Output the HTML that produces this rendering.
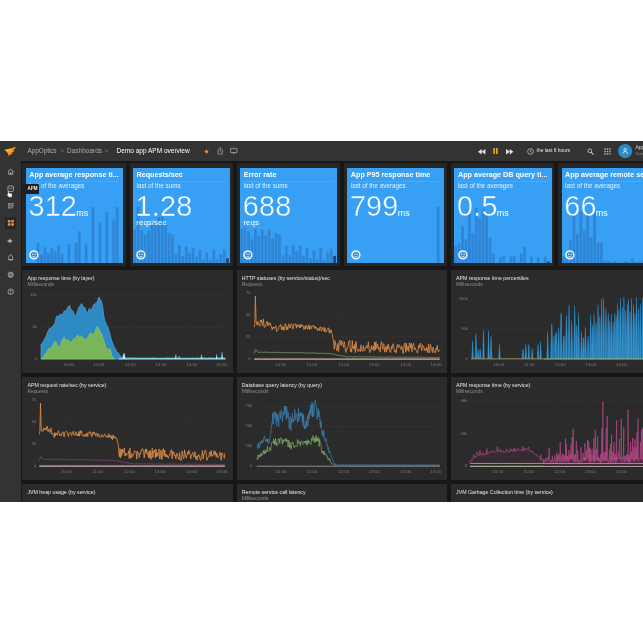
<!DOCTYPE html>
<html lang="en"><head><meta charset="utf-8"><title>Demo app APM overview</title>
<style>
html,body{margin:0;padding:0;background:#fff;}
body{width:643px;height:643px;overflow:hidden;position:relative;font-family:"Liberation Sans", Arial, sans-serif;}
#app{position:absolute;left:0;top:141.2px;width:643px;height:360.4px;overflow:hidden;background:#171717;filter:blur(.3px);}
.abs{position:absolute;}
.t{position:absolute;white-space:nowrap;line-height:1;}
#topbar{position:absolute;left:0;top:0;width:643px;height:20px;background:#333333;}
#side{position:absolute;left:0;top:20px;width:20.8px;height:400px;background:#333333;}
.panel{position:absolute;background:#2b2b2b;overflow:hidden;}
.tile{position:absolute;background:#38a0f4;overflow:hidden;color:#fff;}
.tile .ttl{font-weight:700;font-size:7.2px;left:3.5px;top:3.7px;}
.tile .sub{font-size:6.3px;left:3.5px;top:15.8px;color:rgba(255,255,255,.86);}
.tile .hr{position:absolute;left:3.5px;right:3.5px;top:13.1px;height:.6px;background:rgba(255,255,255,.10);}
.tile .num{font-size:28.8px;left:2.6px;top:24.6px;letter-spacing:0.2px;-webkit-text-stroke:.45px #38a0f4;}
.tile .unit{font-size:9px;letter-spacing:0;-webkit-text-stroke:0;}
.tile .unit2{font-size:8px;left:3.3px;top:51.4px;}
.ct{font-size:5.25px;color:#e6e6e6;}
.cs{font-size:4.9px;color:#8e8e8e;}
.ax{font-size:3.9px;color:#858585;}
.axx{font-size:4.4px;color:#7c7c7c;}
svg{position:absolute;overflow:visible;}
</style></head><body>
<div id="app">

<div id="topbar">
<svg style="left:4.300px;top:4.800px" width="12" height="11" viewBox="0 0 24 22"><path d="M0.500 7.500C7 5.500 15 6 20.500 2.500L23.800 1.500C22.500 5 20 7.800 16.200 9.300C18 9.600 19.800 9.200 21.500 8.300C19.500 11.800 16.500 13.500 13 14C14.500 14.500 16 14.300 17.300 13.700C15.500 16.500 13 17.800 10.800 18L9.500 21.500C9.300 18 8.600 15 6 12.500C4.500 10.500 2.800 9 0.500 7.500Z" fill="#f89c1c"/><path d="M3 8C8 7.300 13.500 7.500 18.500 5C14.500 8.800 9.500 9.800 5.500 10Z" fill="#ffc24a"/></svg>
<div class="t" style="left:27.5px;top:7.31px;font-size:6.5px;color:#a9a9a9"><span style="letter-spacing:-.12px">AppOptics</span></div>
<div class="t" style="left:60.3px;top:7.31px;font-size:6.5px;color:#7a7a7a">&gt;</div>
<div class="t" style="left:67.0px;top:7.31px;font-size:6.5px;color:#a9a9a9">Dashboards</div>
<div class="t" style="left:104.4px;top:7.31px;font-size:6.5px;color:#7a7a7a">&gt;</div>
<div class="t" style="left:116.6px;top:7.31px;font-size:6.5px;color:#ffffff">Demo app APM overview</div>
<svg style="left:203.8px;top:7.800px" width="5" height="5" viewBox="0 0 24 24"><path d="M12 1.5l3.2 7 7.6.8-5.700 5.100 1.600 7.500L12 18l-6.700 3.900 1.600-7.500L1.200 9.300l7.600-.8z" fill="#f5a02c"/></svg>
<svg style="left:217px;top:6.2px" width="6.4" height="7.6" viewBox="0 0 16 19"><path d="M5 7H2.500V17.500H13.500V7H11M8 12V1.500M5 4.300L8 1.300L11 4.300" fill="none" stroke="#adadad" stroke-width="1.700"/></svg>
<svg style="left:229.8px;top:6.8px" width="7.6" height="6.8" viewBox="0 0 19 17"><path d="M1.500 1.500H17.500V11.500H1.500Z" fill="none" stroke="#adadad" stroke-width="1.800"/><path d="M6.500 11.500L9.500 15.500L12.500 11.500Z" fill="#adadad"/></svg>
<svg style="left:478.4px;top:7.4px" width="7.4" height="5.4" viewBox="0 0 22 16"><path d="M11 0V16L0 8ZM22 0V16L11 8Z" fill="#e4e4e4"/></svg>
<svg style="left:493.3px;top:7.1px" width="5" height="6" viewBox="0 0 10 12"><path d="M0.500 0H4V12H0.500ZM6 0H9.500V12H6Z" fill="#f39a21"/></svg>
<svg style="left:505.6px;top:7.4px" width="7.4" height="5.4" viewBox="0 0 22 16"><path d="M0 0V16L11 8ZM11 0V16L22 8Z" fill="#e4e4e4"/></svg>
<svg style="left:526.8px;top:6.5px" width="7" height="7" viewBox="0 0 20 20"><circle cx="10" cy="10" r="8.2" fill="none" stroke="#cfcfcf" stroke-width="2"/><path d="M10 5V10.500L13.500 12" fill="none" stroke="#cfcfcf" stroke-width="1.800"/></svg>
<div class="t" style="left:536.6px;top:8.16px;font-size:4.9px;color:#e8e8e8">the last 6 hours</div>
<svg style="left:587px;top:6.700px" width="7" height="7" viewBox="0 0 20 20"><circle cx="8" cy="8" r="5.500" fill="none" stroke="#c4c4c4" stroke-width="2.600"/><path d="M12.200 12.200L18 18" stroke="#c4c4c4" stroke-width="3" stroke-linecap="round"/></svg>
<svg style="left:604.2px;top:6.600px" width="7" height="7" viewBox="0 0 20 20"><rect x="1" y="1" width="4" height="4" fill="#bdbdbd"/><rect x="1" y="8" width="4" height="4" fill="#bdbdbd"/><rect x="1" y="15" width="4" height="4" fill="#bdbdbd"/><rect x="8" y="1" width="4" height="4" fill="#bdbdbd"/><rect x="8" y="8" width="4" height="4" fill="#bdbdbd"/><rect x="8" y="15" width="4" height="4" fill="#bdbdbd"/><rect x="15" y="1" width="4" height="4" fill="#bdbdbd"/><rect x="15" y="8" width="4" height="4" fill="#bdbdbd"/><rect x="15" y="15" width="4" height="4" fill="#bdbdbd"/></svg>
<svg style="left:617.9px;top:2.900px" width="14.2" height="14.2" viewBox="0 0 40 40"><circle cx="20" cy="20" r="20" fill="#2c88c6"/><circle cx="20" cy="16" r="3.600" fill="none" stroke="#e8f6ff" stroke-width="2.300"/><path d="M13.500 27.500C13.500 23 16 21.500 20 21.500S26.500 23 26.500 27.500" fill="none" stroke="#e8f6ff" stroke-width="2.300"/></svg>
<div class="t" style="left:635.4px;top:4.300px;font-size:5px;color:#dcdcdc">AppOptics</div>
<div class="t" style="left:635.6px;top:10.900px;font-size:4.2px;color:#8a8a8a">SolarWinds</div>
</div>
<div id="side">
<svg style="left:6.60px;top:6.90px" width="7.4" height="7.4" viewBox="0 0 20 20" ><path d="M2 10L10 3L18 10M4.500 8.500V17H15.500V8.500" fill="none" stroke="#b4b4b4" stroke-width="2.200" stroke-linejoin="round"/><rect x="8.300" y="12" width="3.400" height="5" fill="#b4b4b4"/></svg>
<svg style="left:6.60px;top:23.80px" width="7.4" height="7.4" viewBox="0 0 20 20" ><rect x="2.500" y="2.500" width="15" height="15" rx="3.500" fill="none" stroke="#b4b4b4" stroke-width="2.200"/><path d="M6 7L10 11L14 6.500" fill="none" stroke="#b4b4b4" stroke-width="2"/></svg>
<svg style="left:6.60px;top:41.20px" width="7.4" height="7.4" viewBox="0 0 20 20" ><path d="M2.500 2.500H17.500V13L13 17.500H2.500Z" fill="#8f8f8f"/><path d="M2.500 7.500H17.500M2.500 12.500H17.500M10 2.500V17.500" stroke="#333333" stroke-width="1.400"/></svg>
<div class="abs" style="left:4.9px;top:56.20px;width:10.9px;height:11.2px;background:#272727"></div>
<svg style="left:6.50px;top:58.00px" width="7.6" height="7.6" viewBox="0 0 20 20" ><rect x="2" y="2.500" width="7" height="6.500" rx="1" fill="#e98d33"/><rect x="11" y="2.500" width="7" height="6.500" rx="1" fill="#e98d33"/><rect x="2" y="11" width="7" height="6.500" rx="1" fill="#e98d33"/><rect x="11" y="11" width="7" height="6.500" rx="1" fill="#e98d33"/></svg>
<svg style="left:6.40px;top:76.00px" width="7.8" height="7.8" viewBox="0 0 20 20" ><path d="M10 2C10.800 7 12.500 9 18.500 10C12.500 11 10.800 13 10 18C9.200 13 7.500 11 1.500 10C7.500 9 9.200 7 10 2Z" fill="#b4b4b4"/></svg>
<svg style="left:6.60px;top:93.00px" width="7.4" height="7.4" viewBox="0 0 20 20" ><path d="M10 2.500C6.500 2.500 5 5.500 5 8.500V12.500L3 15.200H17L15 12.500V8.500C15 5.500 13.500 2.500 10 2.500Z" fill="none" stroke="#b4b4b4" stroke-width="2.200" stroke-linejoin="round"/><rect x="8" y="16.500" width="4" height="2" fill="#b4b4b4"/></svg>
<svg style="left:6.60px;top:110.10px" width="7.4" height="7.4" viewBox="0 0 20 20" ><circle cx="10" cy="10" r="7.300" fill="#8a8a8a"/><circle cx="10" cy="10" r="7.300" fill="none" stroke="#b4b4b4" stroke-width="1.400"/><path d="M5 8H15M5 12H15" stroke="#333333" stroke-width="1.300"/></svg>
<svg style="left:6.60px;top:127.30px" width="7.4" height="7.4" viewBox="0 0 20 20" ><circle cx="10" cy="10" r="7.300" fill="none" stroke="#b4b4b4" stroke-width="2.200"/><path d="M10 5.500V11" stroke="#b4b4b4" stroke-width="2.400"/><circle cx="10" cy="14" r="1.400" fill="#b4b4b4"/></svg>
</div>
<div class="panel" style="left:22.40px;top:21.60px;width:103.4px;height:103.3px;background:#262626"></div>
<div class="tile" style="left:25.85px;top:26.40px;width:97.1px;height:95.1px">
<svg style="left:0;top:0" width="97.1" height="95.1"><rect x="10.61" y="75.20" width="2.7" height="19.90" fill="rgba(25,70,140,0.30)"/><rect x="14.05" y="86.30" width="2.7" height="8.80" fill="rgba(25,70,140,0.30)"/><rect x="17.49" y="79.20" width="2.7" height="15.90" fill="rgba(25,70,140,0.30)"/><rect x="20.93" y="84.70" width="2.7" height="10.40" fill="rgba(25,70,140,0.30)"/><rect x="24.37" y="80.00" width="2.7" height="15.10" fill="rgba(25,70,140,0.30)"/><rect x="27.82" y="83.20" width="2.7" height="11.90" fill="rgba(25,70,140,0.30)"/><rect x="31.26" y="77.30" width="2.7" height="17.80" fill="rgba(25,70,140,0.30)"/><rect x="34.70" y="85.50" width="2.7" height="9.60" fill="rgba(25,70,140,0.30)"/><rect x="41.58" y="76.00" width="2.7" height="19.10" fill="rgba(25,70,140,0.30)"/><rect x="48.47" y="74.90" width="2.7" height="20.20" fill="rgba(25,70,140,0.30)"/><rect x="51.91" y="63.30" width="2.7" height="31.80" fill="rgba(25,70,140,0.30)"/><rect x="58.79" y="75.50" width="2.7" height="19.60" fill="rgba(25,70,140,0.30)"/><rect x="65.68" y="39.10" width="2.7" height="56.00" fill="rgba(25,70,140,0.30)"/><rect x="72.56" y="54.30" width="2.7" height="40.80" fill="rgba(25,70,140,0.30)"/><rect x="79.45" y="44.30" width="2.7" height="50.80" fill="rgba(25,70,140,0.30)"/><rect x="86.33" y="51.40" width="2.7" height="43.70" fill="rgba(25,70,140,0.30)"/><rect x="89.77" y="39.10" width="2.7" height="56.00" fill="rgba(25,70,140,0.30)"/></svg>
<div class="t ttl">App average response ti...</div><div class="hr"></div><div class="t sub">last of the averages</div>
<div class="t num">312<span class="unit" style="margin-left:-0.9px">ms</span></div>
<svg style="left:3.300px;top:82.300px" width="9.800" height="9.800" viewBox="0 0 24 24"><circle cx="12" cy="12" r="9.800" fill="#5aa8ea" stroke="#f2faff" stroke-width="3.300"/><rect x="5.500" y="8.200" width="13" height="5.200" rx="1" fill="#2767b0"/><rect x="7.300" y="9" width="3.600" height="3.200" fill="#cfe9ff"/><rect x="13.100" y="9" width="3.600" height="3.200" fill="#cfe9ff"/><path d="M8.500 16.600H15.500" stroke="#d6ecff" stroke-width="1.700"/></svg>
</div>
<div class="panel" style="left:129.55px;top:21.60px;width:103.4px;height:103.3px;background:#262626"></div>
<div class="tile" style="left:133.00px;top:26.40px;width:97.1px;height:95.1px">
<svg style="left:0;top:0" width="97.1" height="95.1"><rect x="0.28" y="60.99" width="2.7" height="34.11" fill="rgba(25,70,140,0.30)"/><rect x="3.72" y="38.79" width="2.7" height="56.31" fill="rgba(25,70,140,0.30)"/><rect x="7.16" y="61.79" width="2.7" height="33.31" fill="rgba(25,70,140,0.30)"/><rect x="10.61" y="66.55" width="2.7" height="28.55" fill="rgba(25,70,140,0.30)"/><rect x="14.05" y="62.58" width="2.7" height="32.52" fill="rgba(25,70,140,0.30)"/><rect x="17.49" y="56.24" width="2.7" height="38.86" fill="rgba(25,70,140,0.30)"/><rect x="20.93" y="56.24" width="2.7" height="38.86" fill="rgba(25,70,140,0.30)"/><rect x="24.37" y="49.10" width="2.7" height="46.00" fill="rgba(25,70,140,0.30)"/><rect x="27.82" y="48.30" width="2.7" height="46.80" fill="rgba(25,70,140,0.30)"/><rect x="31.26" y="56.24" width="2.7" height="38.86" fill="rgba(25,70,140,0.30)"/><rect x="34.70" y="64.96" width="2.7" height="30.14" fill="rgba(25,70,140,0.30)"/><rect x="38.14" y="66.55" width="2.7" height="28.55" fill="rgba(25,70,140,0.30)"/><rect x="41.58" y="85.58" width="2.7" height="9.52" fill="rgba(25,70,140,0.30)"/><rect x="45.03" y="76.86" width="2.7" height="18.24" fill="rgba(25,70,140,0.30)"/><rect x="48.47" y="87.96" width="2.7" height="7.14" fill="rgba(25,70,140,0.30)"/><rect x="51.91" y="78.44" width="2.7" height="16.66" fill="rgba(25,70,140,0.30)"/><rect x="55.35" y="84.79" width="2.7" height="10.31" fill="rgba(25,70,140,0.30)"/><rect x="58.79" y="79.71" width="2.7" height="15.39" fill="rgba(25,70,140,0.30)"/><rect x="62.24" y="88.75" width="2.7" height="6.35" fill="rgba(25,70,140,0.30)"/><rect x="65.68" y="81.93" width="2.7" height="13.17" fill="rgba(25,70,140,0.30)"/><rect x="69.12" y="91.13" width="2.7" height="3.97" fill="rgba(25,70,140,0.30)"/><rect x="72.56" y="84.00" width="2.7" height="11.10" fill="rgba(25,70,140,0.30)"/><rect x="76.00" y="91.93" width="2.7" height="3.17" fill="rgba(25,70,140,0.30)"/><rect x="79.45" y="81.30" width="2.7" height="13.80" fill="rgba(25,70,140,0.30)"/><rect x="82.89" y="91.13" width="2.7" height="3.97" fill="rgba(25,70,140,0.30)"/><rect x="86.33" y="86.06" width="2.7" height="9.04" fill="rgba(25,70,140,0.30)"/><rect x="89.77" y="81.62" width="2.7" height="13.48" fill="rgba(25,70,140,0.30)"/><rect x="93.21" y="90.34" width="2.7" height="4.76" fill="rgba(15,45,95,0.8)"/></svg>
<div class="t ttl">Requests/sec</div><div class="hr"></div><div class="t sub">last of the sums</div>
<div class="t num">1.28</div><div class="t unit2">reqs/sec</div>
<svg style="left:3.300px;top:82.300px" width="9.800" height="9.800" viewBox="0 0 24 24"><circle cx="12" cy="12" r="9.800" fill="#5aa8ea" stroke="#f2faff" stroke-width="3.300"/><rect x="5.500" y="8.200" width="13" height="5.200" rx="1" fill="#2767b0"/><rect x="7.300" y="9" width="3.600" height="3.200" fill="#cfe9ff"/><rect x="13.100" y="9" width="3.600" height="3.200" fill="#cfe9ff"/><path d="M8.500 16.600H15.500" stroke="#d6ecff" stroke-width="1.700"/></svg>
</div>
<div class="panel" style="left:236.70px;top:21.60px;width:103.4px;height:103.3px;background:#262626"></div>
<div class="tile" style="left:240.15px;top:26.40px;width:97.1px;height:95.1px">
<svg style="left:0;top:0" width="97.1" height="95.1"><rect x="0.28" y="60.99" width="2.7" height="34.11" fill="rgba(25,70,140,0.30)"/><rect x="3.72" y="59.41" width="2.7" height="35.69" fill="rgba(25,70,140,0.30)"/><rect x="7.16" y="63.37" width="2.7" height="31.73" fill="rgba(25,70,140,0.30)"/><rect x="10.61" y="71.31" width="2.7" height="23.79" fill="rgba(25,70,140,0.30)"/><rect x="14.05" y="60.68" width="2.7" height="34.42" fill="rgba(25,70,140,0.30)"/><rect x="17.49" y="68.13" width="2.7" height="26.97" fill="rgba(25,70,140,0.30)"/><rect x="20.93" y="61.79" width="2.7" height="33.31" fill="rgba(25,70,140,0.30)"/><rect x="24.37" y="67.34" width="2.7" height="27.76" fill="rgba(25,70,140,0.30)"/><rect x="27.82" y="61.47" width="2.7" height="33.63" fill="rgba(25,70,140,0.30)"/><rect x="31.26" y="70.51" width="2.7" height="24.59" fill="rgba(25,70,140,0.30)"/><rect x="34.70" y="64.96" width="2.7" height="30.14" fill="rgba(25,70,140,0.30)"/><rect x="38.14" y="66.55" width="2.7" height="28.55" fill="rgba(25,70,140,0.30)"/><rect x="41.58" y="87.17" width="2.7" height="7.93" fill="rgba(25,70,140,0.30)"/><rect x="45.03" y="78.13" width="2.7" height="16.97" fill="rgba(25,70,140,0.30)"/><rect x="48.47" y="87.17" width="2.7" height="7.93" fill="rgba(25,70,140,0.30)"/><rect x="51.91" y="76.86" width="2.7" height="18.24" fill="rgba(25,70,140,0.30)"/><rect x="55.35" y="83.20" width="2.7" height="11.90" fill="rgba(25,70,140,0.30)"/><rect x="58.79" y="77.65" width="2.7" height="17.45" fill="rgba(25,70,140,0.30)"/><rect x="62.24" y="87.96" width="2.7" height="7.14" fill="rgba(25,70,140,0.30)"/><rect x="65.68" y="79.71" width="2.7" height="15.39" fill="rgba(25,70,140,0.30)"/><rect x="69.12" y="90.34" width="2.7" height="4.76" fill="rgba(25,70,140,0.30)"/><rect x="72.56" y="82.41" width="2.7" height="12.69" fill="rgba(25,70,140,0.30)"/><rect x="76.00" y="91.13" width="2.7" height="3.97" fill="rgba(25,70,140,0.30)"/><rect x="79.45" y="80.03" width="2.7" height="15.07" fill="rgba(25,70,140,0.30)"/><rect x="82.89" y="91.93" width="2.7" height="3.17" fill="rgba(25,70,140,0.30)"/><rect x="86.33" y="84.47" width="2.7" height="10.63" fill="rgba(25,70,140,0.30)"/><rect x="89.77" y="80.82" width="2.7" height="14.28" fill="rgba(25,70,140,0.30)"/><rect x="93.21" y="87.96" width="2.7" height="7.14" fill="rgba(15,45,95,0.8)"/></svg>
<div class="t ttl">Error rate</div><div class="hr"></div><div class="t sub">last of the sums</div>
<div class="t num">688</div><div class="t unit2">reqs</div>
<svg style="left:3.300px;top:82.300px" width="9.800" height="9.800" viewBox="0 0 24 24"><circle cx="12" cy="12" r="9.800" fill="#5aa8ea" stroke="#f2faff" stroke-width="3.300"/><rect x="5.500" y="8.200" width="13" height="5.200" rx="1" fill="#2767b0"/><rect x="7.300" y="9" width="3.600" height="3.200" fill="#cfe9ff"/><rect x="13.100" y="9" width="3.600" height="3.200" fill="#cfe9ff"/><path d="M8.500 16.600H15.500" stroke="#d6ecff" stroke-width="1.700"/></svg>
</div>
<div class="panel" style="left:343.85px;top:21.60px;width:103.4px;height:103.3px;background:#262626"></div>
<div class="tile" style="left:347.30px;top:26.40px;width:97.1px;height:95.1px">
<svg style="left:0;top:0" width="97.1" height="95.1"><rect x="89.77" y="38.60" width="2.7" height="56.50" fill="rgba(25,70,140,0.30)"/></svg>
<div class="t ttl">App P95 response time</div><div class="hr"></div><div class="t sub">last of the averages</div>
<div class="t num">799<span class="unit" style="margin-left:-0.9px">ms</span></div>
<svg style="left:3.300px;top:82.300px" width="9.800" height="9.800" viewBox="0 0 24 24"><circle cx="12" cy="12" r="9.800" fill="#5aa8ea" stroke="#f2faff" stroke-width="3.300"/><rect x="5.500" y="8.200" width="13" height="5.200" rx="1" fill="#2767b0"/><rect x="7.300" y="9" width="3.600" height="3.200" fill="#cfe9ff"/><rect x="13.100" y="9" width="3.600" height="3.200" fill="#cfe9ff"/><path d="M8.500 16.600H15.500" stroke="#d6ecff" stroke-width="1.700"/></svg>
</div>
<div class="panel" style="left:451.00px;top:21.60px;width:103.4px;height:103.3px;background:#262626"></div>
<div class="tile" style="left:454.45px;top:26.40px;width:97.1px;height:95.1px">
<svg style="left:0;top:0" width="97.1" height="95.1"><rect x="0.28" y="77.65" width="2.7" height="17.45" fill="rgba(25,70,140,0.30)"/><rect x="3.72" y="75.27" width="2.7" height="19.83" fill="rgba(25,70,140,0.30)"/><rect x="7.16" y="57.82" width="2.7" height="37.28" fill="rgba(25,70,140,0.30)"/><rect x="10.61" y="71.31" width="2.7" height="23.79" fill="rgba(25,70,140,0.30)"/><rect x="14.05" y="45.92" width="2.7" height="49.18" fill="rgba(25,70,140,0.30)"/><rect x="17.49" y="64.96" width="2.7" height="30.14" fill="rgba(25,70,140,0.30)"/><rect x="20.93" y="39.58" width="2.7" height="55.52" fill="rgba(25,70,140,0.30)"/><rect x="24.37" y="50.68" width="2.7" height="44.42" fill="rgba(25,70,140,0.30)"/><rect x="27.82" y="41.17" width="2.7" height="53.93" fill="rgba(25,70,140,0.30)"/><rect x="31.26" y="47.51" width="2.7" height="47.59" fill="rgba(25,70,140,0.30)"/><rect x="34.70" y="69.72" width="2.7" height="25.38" fill="rgba(25,70,140,0.30)"/><rect x="38.14" y="85.58" width="2.7" height="9.52" fill="rgba(25,70,140,0.30)"/><rect x="45.03" y="89.23" width="2.7" height="5.87" fill="rgba(25,70,140,0.30)"/><rect x="48.47" y="87.96" width="2.7" height="7.14" fill="rgba(25,70,140,0.30)"/><rect x="55.35" y="88.28" width="2.7" height="6.82" fill="rgba(25,70,140,0.30)"/><rect x="58.79" y="87.96" width="2.7" height="7.14" fill="rgba(25,70,140,0.30)"/><rect x="65.68" y="85.58" width="2.7" height="9.52" fill="rgba(25,70,140,0.30)"/><rect x="69.12" y="78.44" width="2.7" height="16.66" fill="rgba(25,70,140,0.30)"/><rect x="76.00" y="88.75" width="2.7" height="6.35" fill="rgba(25,70,140,0.30)"/><rect x="82.89" y="89.23" width="2.7" height="5.87" fill="rgba(25,70,140,0.30)"/><rect x="89.77" y="88.75" width="2.7" height="6.35" fill="rgba(25,70,140,0.30)"/><rect x="93.21" y="93.51" width="2.7" height="1.59" fill="rgba(15,45,95,0.8)"/></svg>
<div class="t ttl">App average DB query ti...</div><div class="hr"></div><div class="t sub">last of the averages</div>
<div class="t num">0.5<span class="unit" style="margin-left:-0.9px">ms</span></div>
<svg style="left:3.300px;top:82.300px" width="9.800" height="9.800" viewBox="0 0 24 24"><circle cx="12" cy="12" r="9.800" fill="#5aa8ea" stroke="#f2faff" stroke-width="3.300"/><rect x="5.500" y="8.200" width="13" height="5.200" rx="1" fill="#2767b0"/><rect x="7.300" y="9" width="3.600" height="3.200" fill="#cfe9ff"/><rect x="13.100" y="9" width="3.600" height="3.200" fill="#cfe9ff"/><path d="M8.500 16.600H15.500" stroke="#d6ecff" stroke-width="1.700"/></svg>
</div>
<div class="panel" style="left:558.15px;top:21.60px;width:103.4px;height:103.3px;background:#262626"></div>
<div class="tile" style="left:561.60px;top:26.40px;width:97.1px;height:95.1px">
<svg style="left:0;top:0" width="97.1" height="95.1"><rect x="0.28" y="88.57" width="2.7" height="6.53" fill="rgba(25,70,140,0.30)"/><rect x="3.72" y="89.87" width="2.7" height="5.23" fill="rgba(25,70,140,0.30)"/><rect x="7.16" y="72.24" width="2.7" height="22.86" fill="rgba(25,70,140,0.30)"/><rect x="10.61" y="45.46" width="2.7" height="49.64" fill="rgba(25,70,140,0.30)"/><rect x="14.05" y="65.71" width="2.7" height="29.39" fill="rgba(25,70,140,0.30)"/><rect x="17.49" y="42.85" width="2.7" height="52.25" fill="rgba(25,70,140,0.30)"/><rect x="20.93" y="62.44" width="2.7" height="32.66" fill="rgba(25,70,140,0.30)"/><rect x="24.37" y="45.46" width="2.7" height="49.64" fill="rgba(25,70,140,0.30)"/><rect x="27.82" y="68.97" width="2.7" height="26.13" fill="rgba(25,70,140,0.30)"/><rect x="31.26" y="44.15" width="2.7" height="50.95" fill="rgba(25,70,140,0.30)"/><rect x="34.70" y="74.20" width="2.7" height="20.90" fill="rgba(25,70,140,0.30)"/><rect x="38.14" y="74.20" width="2.7" height="20.90" fill="rgba(25,70,140,0.30)"/><rect x="41.58" y="92.49" width="2.7" height="2.61" fill="rgba(25,70,140,0.30)"/><rect x="45.03" y="92.49" width="2.7" height="2.61" fill="rgba(25,70,140,0.30)"/><rect x="48.47" y="93.79" width="2.7" height="1.31" fill="rgba(25,70,140,0.30)"/><rect x="51.91" y="93.14" width="2.7" height="1.96" fill="rgba(25,70,140,0.30)"/><rect x="55.35" y="94.45" width="2.7" height="0.65" fill="rgba(25,70,140,0.30)"/><rect x="58.79" y="94.45" width="2.7" height="0.65" fill="rgba(25,70,140,0.30)"/><rect x="62.24" y="93.14" width="2.7" height="1.96" fill="rgba(25,70,140,0.30)"/><rect x="65.68" y="94.45" width="2.7" height="0.65" fill="rgba(25,70,140,0.30)"/><rect x="69.12" y="90.92" width="2.7" height="4.18" fill="rgba(25,70,140,0.30)"/><rect x="72.56" y="93.79" width="2.7" height="1.31" fill="rgba(25,70,140,0.30)"/><rect x="76.00" y="93.79" width="2.7" height="1.31" fill="rgba(25,70,140,0.30)"/><rect x="79.45" y="92.49" width="2.7" height="2.61" fill="rgba(25,70,140,0.30)"/><rect x="82.89" y="93.79" width="2.7" height="1.31" fill="rgba(25,70,140,0.30)"/><rect x="86.33" y="93.79" width="2.7" height="1.31" fill="rgba(25,70,140,0.30)"/><rect x="89.77" y="93.79" width="2.7" height="1.31" fill="rgba(25,70,140,0.30)"/><rect x="93.21" y="93.79" width="2.7" height="1.31" fill="rgba(25,70,140,0.30)"/></svg>
<div class="t ttl">App average remote service...</div><div class="hr"></div><div class="t sub">last of the averages</div>
<div class="t num">66<span class="unit" style="margin-left:-0.9px">ms</span></div>
<svg style="left:3.300px;top:82.300px" width="9.800" height="9.800" viewBox="0 0 24 24"><circle cx="12" cy="12" r="9.800" fill="#5aa8ea" stroke="#f2faff" stroke-width="3.300"/><rect x="5.500" y="8.200" width="13" height="5.200" rx="1" fill="#2767b0"/><rect x="7.300" y="9" width="3.600" height="3.200" fill="#cfe9ff"/><rect x="13.100" y="9" width="3.600" height="3.200" fill="#cfe9ff"/><path d="M8.500 16.600H15.500" stroke="#d6ecff" stroke-width="1.700"/></svg>
</div>
<div class="abs" style="left:23.3px;top:43.00px;width:16.1px;height:9.4px;background:#1f1f1f;border-radius:.8px"></div>
<div class="t" style="left:27.400px;top:46.00px;font-size:4.5px;font-weight:700;color:#ededed">APM</div>
<svg style="left:6.200px;top:49.00px" width="6.800" height="7.600" viewBox="0 0 18 20"><path d="M6 1.500C7 1.500 7.800 2.200 7.800 3.300V8L14.500 9.200C15.800 9.500 16.500 10.300 16.300 11.800L15.500 17.500C15.300 18.600 14.600 19.200 13.500 19.200H8.500C7.600 19.200 7 18.800 6.500 18L2 12.500C1.300 11.600 2.600 10.300 3.700 11.200L4.800 12.200V3.300C4.800 2.200 5.200 1.500 6 1.500Z" fill="#fff" stroke="#222" stroke-width=".8"/></svg>
<div class="panel" style="left:22.40px;top:128.60px;width:210.7px;height:103.3px">
<div class="t ct" style="left:5.0px;top:6.7px">App response time (by layer)</div>
<div class="t cs" style="left:5.0px;top:13.7px">Milliseconds</div>
<svg style="left:0;top:0" width="210.7" height="103.3" viewBox="22.40 269.80 210.7 103.3"><line x1="40.8" x2="225.6" y1="295.4" y2="295.4" stroke="#383838" stroke-width=".5"/><line x1="40.8" x2="225.6" y1="327.2" y2="327.2" stroke="#383838" stroke-width=".5"/><line x1="40.8" x2="225.6" y1="358.9" y2="358.9" stroke="#383838" stroke-width=".5"/><line x1="68.0" x2="68.0" y1="293" y2="358.9" stroke="#3a3a3a" stroke-width=".5" stroke-dasharray="1 .6"/><line x1="98.6" x2="98.6" y1="293" y2="358.9" stroke="#3a3a3a" stroke-width=".5" stroke-dasharray="1 .6"/><line x1="129.8" x2="129.8" y1="293" y2="358.9" stroke="#3a3a3a" stroke-width=".5" stroke-dasharray="1 .6"/><line x1="160.4" x2="160.4" y1="293" y2="358.9" stroke="#3a3a3a" stroke-width=".5" stroke-dasharray="1 .6"/><line x1="191.3" x2="191.3" y1="293" y2="358.9" stroke="#3a3a3a" stroke-width=".5" stroke-dasharray="1 .6"/><line x1="220.9" x2="220.9" y1="293" y2="358.9" stroke="#3a3a3a" stroke-width=".5" stroke-dasharray="1 .6"/><polygon points="41.4,358.9 41.4,344.4 42.3,343.1 43.3,342.2 44.2,340.2 45.1,338.3 46.0,336.7 47.0,334.8 47.9,331.8 48.8,330.8 49.7,328.2 50.7,328.5 51.6,327.3 52.5,326.5 53.4,325.8 54.4,324.0 55.3,323.7 56.2,318.7 57.1,315.7 58.0,317.1 59.0,315.4 59.9,314.5 60.8,314.3 61.7,314.0 62.7,314.1 63.6,313.9 64.5,310.5 65.4,311.2 66.4,310.4 67.3,308.9 68.2,306.9 69.1,306.8 70.1,304.9 71.0,308.6 71.9,309.5 72.8,310.4 73.8,311.6 74.7,315.0 75.6,315.3 76.5,314.4 77.4,312.2 78.4,309.2 79.3,307.1 80.2,305.8 81.1,304.6 82.1,303.3 83.0,305.0 83.9,307.7 84.8,306.7 85.8,308.4 86.7,311.7 87.6,312.3 88.5,311.6 89.5,308.2 90.4,308.7 91.3,312.5 92.2,308.0 93.2,306.5 94.1,304.1 95.0,304.8 95.9,303.1 96.8,302.0 97.8,301.4 98.7,298.1 99.6,296.8 100.5,299.9 101.5,300.0 102.4,303.2 103.3,307.8 104.2,315.3 105.2,320.0 106.1,322.4 107.0,324.3 107.9,325.6 108.9,328.8 109.8,331.6 110.7,335.3 111.6,338.6 112.5,341.6 113.5,343.8 114.4,346.5 115.3,347.5 116.2,349.3 117.2,351.5 118.1,352.4 119.0,352.9 119.9,354.5 120.9,355.8 121.8,357.3 122.7,356.9 123.6,355.1 124.6,352.8 125.5,356.5 125.6,357.2 126.6,357.5 127.7,357.7 128.8,357.6 129.9,357.7 131.0,357.7 132.1,357.4 133.2,357.4 134.3,357.8 135.4,357.5 136.5,357.5 137.6,357.9 138.7,357.6 139.8,357.8 140.9,357.6 142.0,357.7 143.1,357.5 144.2,357.7 145.3,357.8 146.4,357.7 147.5,357.8 148.6,357.7 149.7,357.4 150.8,357.8 151.9,357.7 153.0,357.6 154.1,357.4 155.2,357.8 156.3,357.6 157.4,357.8 158.5,357.8 159.6,357.8 160.7,357.9 161.8,357.6 162.9,357.8 164.0,357.6 165.1,357.9 166.2,357.8 167.3,357.4 168.4,357.5 169.5,357.5 170.6,357.9 171.7,357.6 172.8,357.7 173.9,357.6 175.0,357.7 175.5,357.5 176.1,357.6 176.2,354.3 176.9,357.5 177.2,357.6 178.3,357.7 178.8,357.5 179.4,357.7 179.5,355.9 180.2,357.5 180.5,357.9 181.6,357.7 182.7,357.9 183.8,357.8 184.9,357.9 186.0,357.7 187.1,357.5 188.2,357.8 189.3,357.9 190.4,357.9 191.5,357.7 192.6,357.8 193.7,357.5 194.8,357.8 195.9,357.7 197.0,357.5 198.1,357.4 199.2,357.8 200.3,357.9 201.2,357.5 201.4,357.4 201.9,354.5 202.5,357.8 202.6,357.5 203.6,357.6 204.7,357.5 205.8,357.5 206.9,357.8 208.0,357.8 209.1,357.4 210.2,357.7 211.3,357.4 212.4,357.8 213.5,357.6 214.6,357.8 215.7,357.9 216.3,357.5 216.8,357.7 217.0,354.1 217.7,357.5 217.9,357.9 219.0,357.6 220.1,357.4 221.2,357.7 221.7,357.5 222.3,357.4 222.4,352.0 223.1,357.5 223.4,357.5 224.5,357.6 225.6,357.7 225.6,358.9" fill="#2d8ac2" stroke="#63b2de" stroke-width="0.55" stroke-linejoin="round" opacity="1"/><polygon points="41.4,358.9 41.4,358.5 42.3,358.3 43.3,357.2 44.2,355.8 45.1,354.4 46.0,353.1 47.0,352.6 47.9,350.2 48.8,348.9 49.7,347.8 50.7,349.2 51.6,347.2 52.5,345.6 53.4,344.0 54.4,342.7 55.3,341.2 56.2,341.4 57.1,343.4 58.0,345.6 59.0,347.5 59.9,346.0 60.8,345.3 61.7,340.8 62.7,339.8 63.6,338.5 64.5,336.2 65.4,339.4 66.4,339.6 67.3,339.4 68.2,340.1 69.1,339.7 70.1,341.2 71.0,341.4 71.9,342.0 72.8,340.6 73.8,338.8 74.7,338.0 75.6,338.8 76.5,338.0 77.4,335.1 78.4,334.9 79.3,338.3 80.2,336.4 81.1,335.3 82.1,336.4 83.0,336.8 83.9,339.0 84.8,338.4 85.8,339.3 86.7,338.4 87.6,337.9 88.5,336.6 89.5,334.8 90.4,333.1 91.3,332.7 92.2,333.8 93.2,334.1 94.1,334.5 95.0,332.2 95.9,329.9 96.8,327.1 97.8,326.2 98.7,327.6 99.6,328.9 100.5,331.6 101.5,333.2 102.4,333.7 103.3,337.4 104.2,340.4 105.2,343.1 106.1,346.5 107.0,348.0 107.9,348.8 108.9,349.3 109.8,349.1 110.7,348.1 111.6,352.8 112.5,356.0 113.5,357.0 114.4,358.0 115.3,358.7 115.7,358.7 115.7,358.9" fill="#7ab55c" stroke="#9bd07c" stroke-width="0.45" stroke-linejoin="round" opacity="1"/><rect x="119.0" y="357.9" width="106.6" height="1.3" fill="#8fd3e6"/><path d="M175.4 358.5L176.2 355.3L177.0 358.5Z" fill="#cfeaf0"/><path d="M201.1 358.5L201.9 355.5L202.7 358.5Z" fill="#cfeaf0"/><path d="M216.2 358.5L217.0 355.1L217.8 358.5Z" fill="#cfeaf0"/><path d="M221.6 358.5L222.4 353.0L223.2 358.5Z" fill="#cfeaf0"/><path d="M178.7 358.5L179.5 356.9L180.3 358.5Z" fill="#cfeaf0"/><path d="M122.9 358.5L124.4 352.5L125.7 358.5Z" fill="#cfeaf0"/></svg>
<div class="t ax" style="right:196.5px;top:23.6px">10k</div>
<div class="t ax" style="right:196.5px;top:55.4px">5k</div>
<div class="t ax" style="right:196.5px;top:87.1px">0</div>
<div class="t axx" style="left:40.6px;top:93.4px">10:00</div>
<div class="t axx" style="left:71.2px;top:93.4px">11:00</div>
<div class="t axx" style="left:102.4px;top:93.4px">12:00</div>
<div class="t axx" style="left:133.0px;top:93.4px">13:00</div>
<div class="t axx" style="left:163.9px;top:93.4px">14:00</div>
<div class="t axx" style="left:193.5px;top:93.4px">15:00</div>
</div>
<div class="panel" style="left:236.70px;top:128.60px;width:210.7px;height:103.3px">
<div class="t ct" style="left:5.0px;top:6.7px">HTTP statuses (by service/status)/sec</div>
<div class="t cs" style="left:5.0px;top:13.7px">Requests</div>
<svg style="left:0;top:0" width="210.7" height="103.3" viewBox="236.70 269.80 210.7 103.3"><line x1="253.9" x2="439.5" y1="292.6" y2="292.6" stroke="#383838" stroke-width=".5"/><line x1="253.9" x2="439.5" y1="314.7" y2="314.7" stroke="#383838" stroke-width=".5"/><line x1="253.9" x2="439.5" y1="336.8" y2="336.8" stroke="#383838" stroke-width=".5"/><line x1="253.9" x2="439.5" y1="358.9" y2="358.9" stroke="#383838" stroke-width=".5"/><line x1="280.3" x2="280.3" y1="292.6" y2="358.9" stroke="#3a3a3a" stroke-width=".5" stroke-dasharray="1 .6"/><line x1="311.6" x2="311.6" y1="292.6" y2="358.9" stroke="#3a3a3a" stroke-width=".5" stroke-dasharray="1 .6"/><line x1="343.2" x2="343.2" y1="292.6" y2="358.9" stroke="#3a3a3a" stroke-width=".5" stroke-dasharray="1 .6"/><line x1="373.7" x2="373.7" y1="292.6" y2="358.9" stroke="#3a3a3a" stroke-width=".5" stroke-dasharray="1 .6"/><line x1="405.3" x2="405.3" y1="292.6" y2="358.9" stroke="#3a3a3a" stroke-width=".5" stroke-dasharray="1 .6"/><line x1="435.5" x2="435.5" y1="292.6" y2="358.9" stroke="#3a3a3a" stroke-width=".5" stroke-dasharray="1 .6"/><polyline points="253.9,327.0 254.5,324.0 255.1,296.0 255.8,321.0 256.4,324.0 257.0,325.0 257.6,321.3 258.2,323.9 258.9,324.8 259.5,326.0 260.1,319.9 260.7,321.5 261.3,319.6 262.0,325.4 262.6,324.3 263.2,318.7 263.8,327.0 264.5,327.3 265.1,325.2 265.7,325.3 266.3,321.9 266.9,321.1 267.6,325.9 268.2,322.4 268.8,323.9 269.4,324.4 270.0,322.7 270.7,326.4 271.3,326.2 271.9,329.7 272.5,327.0 273.1,328.1 273.8,326.9 274.4,328.3 275.0,326.7 275.6,325.3 276.2,331.1 276.9,331.1 277.5,329.9 278.1,328.9 278.7,326.0 279.4,325.4 280.0,325.9 280.6,324.2 281.2,329.3 281.8,326.5 282.5,329.6 283.1,326.3 283.7,330.2 284.3,329.3 284.9,323.4 285.6,324.8 286.2,329.4 286.8,326.4 287.4,329.6 288.0,325.7 288.7,323.6 289.3,327.0 289.9,327.9 290.5,324.7 291.1,323.5 291.8,325.0 292.4,328.9 293.0,327.7 293.6,323.9 294.2,324.7 294.9,323.8 295.5,323.6 296.1,328.0 296.7,324.4 297.4,326.7 298.0,326.1 298.6,324.6 299.2,327.8 299.8,324.3 300.5,327.4 301.1,324.3 301.7,326.1 302.3,324.9 302.9,325.3 303.6,329.4 304.2,328.5 304.8,325.6 305.4,329.0 306.0,325.1 306.7,326.2 307.3,328.9 307.9,327.7 308.5,324.6 309.1,329.8 309.8,325.4 310.4,325.7 311.0,328.8 311.6,326.3 312.2,326.2 312.9,325.0 313.5,325.2 314.1,328.1 314.7,326.2 315.4,328.4 316.0,327.1 316.6,327.7 317.2,330.7 317.8,328.0 318.5,328.6 319.1,330.4 319.7,326.5 320.3,326.5 320.9,330.9 321.6,330.4 322.2,327.3 322.8,327.0 323.4,330.2 324.0,331.4 324.7,327.4 325.3,331.8 325.9,331.7 326.5,330.3 327.1,329.5 327.8,327.9 328.4,327.7 329.0,333.1 329.6,329.3 330.3,332.1 330.9,329.8 331.5,333.2 332.1,334.7 332.7,338.2 333.4,342.2 334.0,348.9 334.6,340.4 335.2,342.5 335.8,346.8 336.5,350.6 337.1,347.5 337.7,343.2 338.3,351.4 338.9,342.3 339.6,339.9 340.2,343.2 340.8,345.4 341.4,340.5 342.0,342.0 342.7,344.5 343.3,347.1 343.9,341.5 344.5,344.4 345.1,351.1 345.8,352.3 346.4,348.2 347.0,348.6 347.6,347.3 348.3,341.7 348.9,340.4 349.5,340.2 350.1,351.4 350.7,348.8 351.4,352.0 352.0,340.3 352.6,348.0 353.2,346.1 353.8,349.2 354.5,344.1 355.1,352.5 355.7,341.1 356.3,346.9 356.9,349.3 357.6,351.3 358.2,349.3 358.8,348.9 359.4,350.0 360.0,351.5 360.7,344.6 361.3,348.7 361.9,351.3 362.5,350.9 363.1,345.5 363.8,350.0 364.4,350.9 365.0,347.4 365.6,348.0 366.3,345.1 366.9,347.6 367.5,347.9 368.1,341.6 368.7,348.3 369.4,352.5 370.0,351.2 370.6,349.4 371.2,345.4 371.8,349.6 372.5,347.7 373.1,346.1 373.7,350.8 374.3,342.0 374.9,349.8 375.6,341.4 376.2,348.1 376.8,346.7 377.4,343.8 378.0,349.3 378.7,347.0 379.3,348.4 379.9,352.0 380.5,344.3 381.2,341.4 381.8,344.9 382.4,349.3 383.0,343.8 383.6,343.4 384.3,352.0 384.9,349.1 385.5,346.6 386.1,351.9 386.7,345.4 387.4,349.3 388.0,343.9 388.6,346.6 389.2,351.0 389.8,352.2 390.5,351.9 391.1,346.2 391.7,348.5 392.3,345.5 392.9,343.5 393.6,347.6 394.2,351.5 394.8,351.7 395.4,350.1 396.0,352.8 396.7,345.2 397.3,344.1 397.9,347.3 398.5,345.3 399.2,344.6 399.8,346.9 400.4,349.3 401.0,347.9 401.6,345.9 402.3,351.8 402.9,353.4 403.5,347.5 404.1,343.3 404.7,342.8 405.4,352.2 406.0,342.9 406.6,350.3 407.2,348.8 407.8,345.9 408.5,351.3 409.1,342.7 409.7,344.0 410.3,347.5 410.9,342.8 411.6,351.7 412.2,345.2 412.8,344.1 413.4,343.1 414.0,349.5 414.7,347.5 415.3,349.5 415.9,349.8 416.5,351.4 417.2,353.1 417.8,350.1 418.4,344.8 419.0,347.8 419.6,344.6 420.3,342.8 420.9,347.8 421.5,350.4 422.1,344.6 422.7,345.7 423.4,346.5 424.0,350.2 424.6,348.3 425.2,349.3 425.8,350.9 426.5,347.0 427.1,351.2 427.7,352.5 428.3,343.7 428.9,352.7 429.6,350.5 430.2,344.2 430.8,347.7 431.4,349.5 432.1,352.5 432.7,346.9 433.3,348.9 433.9,352.2 434.5,351.3 435.2,352.8 435.8,347.8 436.4,349.8 437.0,345.1 437.6,350.5 438.3,351.5 438.9,349.7 439.5,350.5" fill="none" stroke="#e59049" stroke-width="0.8" stroke-linejoin="round" opacity="1"/><polyline points="253.9,353.0 254.5,351.4 255.1,349.8 255.8,349.3 256.4,350.1 257.0,351.1 257.6,351.9 258.2,352.2 258.9,352.1 259.5,352.1 260.1,352.1 260.7,352.1 261.3,351.8 262.0,352.0 262.6,351.9 263.2,352.3 263.8,351.8 264.5,352.3 265.1,351.9 265.7,352.2 266.3,352.0 266.9,352.1 267.6,352.4 268.2,351.9 268.8,351.9 269.4,352.4 270.0,352.2 270.7,352.0 271.3,352.5 271.9,352.5 272.5,352.0 273.1,352.2 273.8,352.0 274.4,352.1 275.0,352.3 275.6,352.1 276.2,352.4 276.9,352.0 277.5,352.1 278.1,352.5 278.7,352.3 279.4,352.3 280.0,352.4 280.6,352.3 281.2,352.3 281.8,352.1 282.5,352.5 283.1,352.7 283.7,352.7 284.3,352.5 284.9,352.3 285.6,352.3 286.2,352.6 286.8,352.6 287.4,352.2 288.0,352.3 288.7,352.4 289.3,352.5 289.9,352.7 290.5,352.5 291.1,352.2 291.8,352.7 292.4,352.5 293.0,352.6 293.6,352.4 294.2,352.5 294.9,352.5 295.5,352.7 296.1,352.4 296.7,352.6 297.4,352.4 298.0,352.7 298.6,352.4 299.2,352.5 299.8,352.6 300.5,352.7 301.1,352.4 301.7,352.7 302.3,352.5 302.9,352.6 303.6,352.7 304.2,353.0 304.8,352.7 305.4,353.0 306.0,352.5 306.7,353.0 307.3,352.7 307.9,352.6 308.5,352.9 309.1,353.0 309.8,352.5 310.4,352.7 311.0,353.0 311.6,352.8 312.2,352.7 312.9,352.6 313.5,352.6 314.1,353.0 314.7,353.2 315.4,353.3 316.0,353.0 316.6,352.7 317.2,352.9 317.8,353.2 318.5,353.3 319.1,353.2 319.7,352.9 320.3,353.1 320.9,353.1 321.6,353.2 322.2,353.0 322.8,353.5 323.4,353.4 324.0,353.0 324.7,353.1 325.3,353.5 325.9,353.1 326.5,353.6 327.1,353.3 327.8,353.5 328.4,353.5 329.0,353.2 329.6,353.3 330.3,353.3 330.9,353.7 331.5,353.8 332.1,353.6 332.7,354.2 333.4,354.0 334.0,354.0 334.6,354.2 335.2,354.7 335.8,354.6 336.5,354.7 337.1,355.0 337.7,355.2 338.3,355.2 338.9,355.1 339.6,355.3 340.2,355.6 340.8,355.6 341.4,355.6 342.0,355.6 342.7,355.7 343.3,356.1 343.9,356.1 344.5,355.9 345.1,356.4 345.8,356.7 346.4,356.7 347.0,356.8 347.6,356.9 348.3,356.6 348.9,356.8 349.5,356.5 350.1,356.4 350.7,356.5 351.4,356.5 352.0,356.9 352.6,356.8 353.2,356.7 353.8,356.7 354.5,356.4 355.1,356.7 355.7,356.8 356.3,356.6 356.9,356.5 357.6,356.6 358.2,356.6 358.8,356.8 359.4,356.5 360.0,356.5 360.7,356.6 361.3,356.8 361.9,356.9 362.5,356.8 363.1,357.0 363.8,356.6 364.4,356.5 365.0,356.7 365.6,356.7 366.3,356.6 366.9,356.9 367.5,356.7 368.1,356.6 368.7,356.7 369.4,357.0 370.0,356.5 370.6,356.7 371.2,356.7 371.8,356.6 372.5,356.8 373.1,356.6 373.7,357.1 374.3,356.8 374.9,356.9 375.6,356.6 376.2,356.8 376.8,356.9 377.4,357.0 378.0,356.7 378.7,356.8 379.3,357.1 379.9,357.0 380.5,356.7 381.2,356.9 381.8,357.0 382.4,356.8 383.0,357.0 383.6,357.0 384.3,357.2 384.9,356.9 385.5,357.0 386.1,356.8 386.7,357.0 387.4,356.8 388.0,356.9 388.6,356.8 389.2,356.8 389.8,356.7 390.5,356.8 391.1,357.0 391.7,356.8 392.3,356.7 392.9,357.1 393.6,356.8 394.2,357.2 394.8,357.0 395.4,356.9 396.0,357.2 396.7,357.2 397.3,356.9 397.9,356.8 398.5,357.1 399.2,357.2 399.8,357.1 400.4,357.2 401.0,357.0 401.6,357.1 402.3,356.9 402.9,357.0 403.5,357.0 404.1,357.0 404.7,357.0 405.4,357.2 406.0,356.8 406.6,356.9 407.2,356.9 407.8,357.3 408.5,357.1 409.1,356.8 409.7,357.3 410.3,357.3 410.9,357.3 411.6,357.0 412.2,357.2 412.8,357.0 413.4,356.9 414.0,357.3 414.7,357.3 415.3,356.9 415.9,357.3 416.5,356.8 417.2,357.0 417.8,356.8 418.4,356.9 419.0,356.9 419.6,357.3 420.3,357.0 420.9,357.0 421.5,357.0 422.1,357.1 422.7,357.4 423.4,357.2 424.0,356.9 424.6,357.3 425.2,357.2 425.8,357.2 426.5,357.2 427.1,357.3 427.7,357.4 428.3,357.2 428.9,357.3 429.6,357.2 430.2,357.3 430.8,357.2 431.4,357.2 432.1,357.3 432.7,357.4 433.3,357.1 433.9,357.5 434.5,357.3 435.2,357.5 435.8,357.4 436.4,357.6 437.0,357.4 437.6,357.2 438.3,357.2 438.9,357.4 439.5,357.5" fill="none" stroke="#8fb56a" stroke-width="0.7" stroke-linejoin="round" opacity="1"/><line x1="253.9" x2="439.5" y1="358.0" y2="358.0" stroke="#6e3a30" stroke-width=".5"/><line x1="253.9" x2="439.5" y1="358.9" y2="358.9" stroke="#ecd6cc" stroke-width="1.0"/></svg>
<div class="t ax" style="right:197.0px;top:20.8px">75</div>
<div class="t ax" style="right:197.0px;top:42.9px">50</div>
<div class="t ax" style="right:197.0px;top:65.0px">25</div>
<div class="t ax" style="right:197.0px;top:87.1px">0</div>
<div class="t axx" style="left:38.6px;top:93.4px">10:00</div>
<div class="t axx" style="left:69.9px;top:93.4px">11:00</div>
<div class="t axx" style="left:101.5px;top:93.4px">12:00</div>
<div class="t axx" style="left:132.0px;top:93.4px">13:00</div>
<div class="t axx" style="left:163.6px;top:93.4px">14:00</div>
<div class="t axx" style="left:193.8px;top:93.4px">15:00</div>
</div>
<div class="panel" style="left:451.00px;top:128.60px;width:210.7px;height:103.3px">
<div class="t ct" style="left:5.0px;top:6.7px">APM response time percentiles</div>
<div class="t cs" style="left:5.0px;top:13.7px">Milliseconds</div>
<svg style="left:0;top:0" width="210.7" height="103.3" viewBox="451.00 269.80 210.7 103.3"><line x1="471.0" x2="660" y1="299.0" y2="299.0" stroke="#383838" stroke-width=".5"/><line x1="471.0" x2="660" y1="329.0" y2="329.0" stroke="#383838" stroke-width=".5"/><line x1="471.0" x2="660" y1="358.9" y2="358.9" stroke="#383838" stroke-width=".5"/><line x1="498.2" x2="498.2" y1="297" y2="358.9" stroke="#3a3a3a" stroke-width=".5" stroke-dasharray="1 .6"/><line x1="529.0" x2="529.0" y1="297" y2="358.9" stroke="#3a3a3a" stroke-width=".5" stroke-dasharray="1 .6"/><line x1="559.7" x2="559.7" y1="297" y2="358.9" stroke="#3a3a3a" stroke-width=".5" stroke-dasharray="1 .6"/><line x1="590.2" x2="590.2" y1="297" y2="358.9" stroke="#3a3a3a" stroke-width=".5" stroke-dasharray="1 .6"/><line x1="621.0" x2="621.0" y1="297" y2="358.9" stroke="#3a3a3a" stroke-width=".5" stroke-dasharray="1 .6"/><path d="M471.3 358.9L472.3 340.4L472.8 340.4L473.9 358.9Z" fill="#246f9f"/><path d="M474.7 358.9L475.7 332.9L476.2 332.9L477.3 358.9Z" fill="#246f9f"/><path d="M476.8 358.9L477.9 348.8L478.4 348.8L479.4 358.9Z" fill="#246f9f"/><path d="M478.9 358.9L479.9 348.0L480.4 348.0L481.5 358.9Z" fill="#246f9f"/><path d="M482.2 358.9L483.3 329.5L483.8 329.5L484.8 358.9Z" fill="#246f9f"/><path d="M487.3 358.9L488.3 330.3L488.8 330.3L489.9 358.9Z" fill="#246f9f"/><path d="M489.8 358.9L490.8 335.4L491.3 335.4L492.4 358.9Z" fill="#246f9f"/><path d="M498.2 358.9L499.2 343.8L499.7 343.8L500.8 358.9Z" fill="#246f9f"/><path d="M521.7 358.9L522.7 348.0L523.2 348.0L524.3 358.9Z" fill="#246f9f"/><path d="M524.5 358.9L525.6 343.8L526.1 343.8L527.1 358.9Z" fill="#246f9f"/><path d="M527.6 358.9L528.6 343.8L529.1 343.8L530.2 358.9Z" fill="#246f9f"/><path d="M530.9 358.9L532.0 348.0L532.5 348.0L533.5 358.9Z" fill="#246f9f"/><path d="M536.8 358.9L537.8 343.8L538.3 343.8L539.4 358.9Z" fill="#246f9f"/><path d="M539.3 358.9L540.4 341.3L540.9 341.3L541.9 358.9Z" fill="#246f9f"/><path d="M546.4 358.9L547.4 331.2L547.9 331.2L549.0 358.9Z" fill="#246f9f"/><path d="M550.2 358.9L551.3 323.6L551.8 323.6L552.8 358.9Z" fill="#246f9f"/><path d="M552.8 358.9L553.8 335.4L554.3 335.4L555.4 358.9Z" fill="#246f9f"/><path d="M555.3 358.9L556.3 332.0L556.8 332.0L557.9 358.9Z" fill="#246f9f"/><path d="M557.5 358.9L558.5 327.0L559.0 327.0L560.1 358.9Z" fill="#246f9f"/><path d="M560.0 358.9L561.0 312.7L561.5 312.7L562.6 358.9Z" fill="#246f9f"/><path d="M562.8 358.9L563.9 335.4L564.4 335.4L565.4 358.9Z" fill="#246f9f"/><path d="M565.4 358.9L566.4 314.4L566.9 314.4L568.0 358.9Z" fill="#246f9f"/><path d="M472.0 358.9L472.3 341.4L472.8 341.4L473.2 358.9Z" fill="#3b94cc"/><path d="M475.4 358.9L475.7 333.9L476.2 333.9L476.6 358.9Z" fill="#3b94cc"/><path d="M477.5 358.9L477.9 349.8L478.4 349.8L478.7 358.9Z" fill="#3b94cc"/><path d="M479.6 358.9L479.9 349.0L480.4 349.0L480.8 358.9Z" fill="#3b94cc"/><path d="M482.9 358.9L483.3 330.5L483.8 330.5L484.1 358.9Z" fill="#3b94cc"/><path d="M488.0 358.9L488.3 331.3L488.8 331.3L489.2 358.9Z" fill="#3b94cc"/><path d="M490.5 358.9L490.8 336.4L491.3 336.4L491.7 358.9Z" fill="#3b94cc"/><path d="M498.9 358.9L499.2 344.8L499.7 344.8L500.1 358.9Z" fill="#3b94cc"/><path d="M522.4 358.9L522.7 349.0L523.2 349.0L523.6 358.9Z" fill="#3b94cc"/><path d="M525.2 358.9L525.6 344.8L526.1 344.8L526.4 358.9Z" fill="#3b94cc"/><path d="M528.3 358.9L528.6 344.8L529.1 344.8L529.5 358.9Z" fill="#3b94cc"/><path d="M531.6 358.9L532.0 349.0L532.5 349.0L532.8 358.9Z" fill="#3b94cc"/><path d="M537.5 358.9L537.8 344.8L538.3 344.8L538.7 358.9Z" fill="#3b94cc"/><path d="M540.0 358.9L540.4 342.3L540.9 342.3L541.2 358.9Z" fill="#3b94cc"/><path d="M547.1 358.9L547.4 332.2L547.9 332.2L548.3 358.9Z" fill="#3b94cc"/><path d="M550.9 358.9L551.3 324.6L551.8 324.6L552.1 358.9Z" fill="#3b94cc"/><path d="M553.5 358.9L553.8 336.4L554.3 336.4L554.7 358.9Z" fill="#3b94cc"/><path d="M556.0 358.9L556.3 333.0L556.8 333.0L557.2 358.9Z" fill="#3b94cc"/><path d="M558.2 358.9L558.5 328.0L559.0 328.0L559.4 358.9Z" fill="#3b94cc"/><path d="M560.7 358.9L561.0 313.7L561.5 313.7L561.9 358.9Z" fill="#3b94cc"/><path d="M563.5 358.9L563.9 336.4L564.4 336.4L564.7 358.9Z" fill="#3b94cc"/><path d="M566.1 358.9L566.4 315.4L566.9 315.4L567.3 358.9Z" fill="#3b94cc"/><path d="M550.1 358.9L551.6 323.1L552.1 323.1L553.7 358.9Z" fill="#226a99"/><path d="M553.9 358.9L555.4 332.2L555.9 332.2L557.5 358.9Z" fill="#226a99"/><path d="M556.6 358.9L558.2 328.4L558.7 328.4L560.2 358.9Z" fill="#226a99"/><path d="M559.2 358.9L560.8 312.4L561.3 312.4L562.8 358.9Z" fill="#226a99"/><path d="M561.9 358.9L563.5 335.3L564.0 335.3L565.5 358.9Z" fill="#226a99"/><path d="M564.5 358.9L566.1 315.5L566.6 315.5L568.1 358.9Z" fill="#226a99"/><path d="M567.3 358.9L568.8 304.1L569.3 304.1L570.9 358.9Z" fill="#226a99"/><path d="M569.9 358.9L571.4 320.1L571.9 320.1L573.5 358.9Z" fill="#226a99"/><path d="M572.9 358.9L574.5 304.8L575.0 304.8L576.5 358.9Z" fill="#226a99"/><path d="M574.9 358.9L576.5 324.6L577.0 324.6L578.5 358.9Z" fill="#226a99"/><path d="M576.7 358.9L578.3 312.4L578.8 312.4L580.3 358.9Z" fill="#226a99"/><path d="M579.8 358.9L581.3 330.7L581.8 330.7L583.4 358.9Z" fill="#226a99"/><path d="M581.8 358.9L583.3 336.8L583.8 336.8L585.4 358.9Z" fill="#226a99"/><path d="M583.6 358.9L585.1 326.2L585.6 326.2L587.2 358.9Z" fill="#226a99"/><path d="M586.3 358.9L587.9 335.3L588.4 335.3L589.9 358.9Z" fill="#226a99"/><path d="M588.9 358.9L590.5 314.0L591.0 314.0L592.5 358.9Z" fill="#226a99"/><path d="M590.6 358.9L592.2 324.6L592.7 324.6L594.2 358.9Z" fill="#226a99"/><path d="M592.3 358.9L593.8 313.2L594.3 313.2L595.9 358.9Z" fill="#226a99"/><path d="M594.3 358.9L595.8 321.6L596.3 321.6L597.9 358.9Z" fill="#226a99"/><path d="M596.2 358.9L597.8 304.1L598.3 304.1L599.8 358.9Z" fill="#226a99"/><path d="M598.1 358.9L599.6 315.5L600.1 315.5L601.7 358.9Z" fill="#226a99"/><path d="M599.9 358.9L601.4 298.0L601.9 298.0L603.5 358.9Z" fill="#226a99"/><path d="M601.9 358.9L603.4 297.2L603.9 297.2L605.5 358.9Z" fill="#226a99"/><path d="M604.2 358.9L605.7 307.9L606.2 307.9L607.8 358.9Z" fill="#226a99"/><path d="M606.5 358.9L608.0 312.4L608.5 312.4L610.1 358.9Z" fill="#226a99"/><path d="M608.0 358.9L609.5 320.1L610.0 320.1L611.6 358.9Z" fill="#226a99"/><path d="M609.5 358.9L611.1 313.2L611.6 313.2L613.1 358.9Z" fill="#226a99"/><path d="M611.3 358.9L612.9 321.6L613.4 321.6L614.9 358.9Z" fill="#226a99"/><path d="M613.0 358.9L614.6 312.4L615.1 312.4L616.6 358.9Z" fill="#226a99"/><path d="M614.4 358.9L615.9 315.5L616.4 315.5L618.0 358.9Z" fill="#226a99"/><path d="M615.6 358.9L617.1 303.3L617.6 303.3L619.2 358.9Z" fill="#226a99"/><path d="M617.1 358.9L618.7 309.4L619.2 309.4L620.7 358.9Z" fill="#226a99"/><path d="M618.6 358.9L620.2 298.0L620.7 298.0L622.2 358.9Z" fill="#226a99"/><path d="M620.5 358.9L622.0 306.3L622.5 306.3L624.1 358.9Z" fill="#226a99"/><path d="M622.2 358.9L623.7 296.4L624.2 296.4L625.8 358.9Z" fill="#226a99"/><path d="M624.0 358.9L625.5 309.4L626.0 309.4L627.6 358.9Z" fill="#226a99"/><path d="M625.5 358.9L627.1 303.3L627.6 303.3L629.1 358.9Z" fill="#226a99"/><path d="M626.7 358.9L628.3 298.7L628.8 298.7L630.3 358.9Z" fill="#226a99"/><path d="M628.2 358.9L629.8 310.9L630.3 310.9L631.8 358.9Z" fill="#226a99"/><path d="M629.8 358.9L631.3 298.0L631.8 298.0L633.4 358.9Z" fill="#226a99"/><path d="M631.6 358.9L633.2 303.3L633.7 303.3L635.2 358.9Z" fill="#226a99"/><path d="M633.1 358.9L634.7 312.4L635.2 312.4L636.7 358.9Z" fill="#226a99"/><path d="M634.6 358.9L636.2 296.4L636.7 296.4L638.2 358.9Z" fill="#226a99"/><path d="M636.5 358.9L638.0 307.9L638.5 307.9L640.1 358.9Z" fill="#226a99"/><path d="M638.5 358.9L640.0 303.3L640.5 303.3L642.1 358.9Z" fill="#226a99"/><path d="M640.7 358.9L642.3 297.2L642.8 297.2L644.3 358.9Z" fill="#226a99"/><path d="M643.0 358.9L644.6 301.8L645.1 301.8L646.6 358.9Z" fill="#226a99"/><path d="M645.0 358.9L646.6 298.7L647.1 298.7L648.6 358.9Z" fill="#226a99"/><path d="M551.1 358.9L551.6 324.1L552.1 324.1L552.6 358.9Z" fill="#3591c9"/><path d="M554.9 358.9L555.4 333.2L555.9 333.2L556.4 358.9Z" fill="#3591c9"/><path d="M557.7 358.9L558.2 329.4L558.7 329.4L559.2 358.9Z" fill="#3591c9"/><path d="M560.3 358.9L560.8 313.4L561.3 313.4L561.8 358.9Z" fill="#3591c9"/><path d="M563.0 358.9L563.5 336.3L564.0 336.3L564.5 358.9Z" fill="#3591c9"/><path d="M565.6 358.9L566.1 316.5L566.6 316.5L567.1 358.9Z" fill="#3591c9"/><path d="M568.3 358.9L568.8 305.1L569.3 305.1L569.8 358.9Z" fill="#3591c9"/><path d="M570.9 358.9L571.4 321.1L571.9 321.1L572.4 358.9Z" fill="#3591c9"/><path d="M574.0 358.9L574.5 305.8L575.0 305.8L575.5 358.9Z" fill="#3591c9"/><path d="M576.0 358.9L576.5 325.6L577.0 325.6L577.5 358.9Z" fill="#3591c9"/><path d="M577.8 358.9L578.3 313.4L578.8 313.4L579.3 358.9Z" fill="#3591c9"/><path d="M580.8 358.9L581.3 331.7L581.8 331.7L582.3 358.9Z" fill="#3591c9"/><path d="M582.8 358.9L583.3 337.8L583.8 337.8L584.3 358.9Z" fill="#3591c9"/><path d="M584.6 358.9L585.1 327.2L585.6 327.2L586.1 358.9Z" fill="#3591c9"/><path d="M587.4 358.9L587.9 336.3L588.4 336.3L588.9 358.9Z" fill="#3591c9"/><path d="M590.0 358.9L590.5 315.0L591.0 315.0L591.5 358.9Z" fill="#3591c9"/><path d="M591.7 358.9L592.2 325.6L592.7 325.6L593.2 358.9Z" fill="#3591c9"/><path d="M593.3 358.9L593.8 314.2L594.3 314.2L594.8 358.9Z" fill="#3591c9"/><path d="M595.3 358.9L595.8 322.6L596.3 322.6L596.8 358.9Z" fill="#3591c9"/><path d="M597.3 358.9L597.8 305.1L598.3 305.1L598.8 358.9Z" fill="#3591c9"/><path d="M599.1 358.9L599.6 316.5L600.1 316.5L600.6 358.9Z" fill="#3591c9"/><path d="M600.9 358.9L601.4 299.0L601.9 299.0L602.4 358.9Z" fill="#3591c9"/><path d="M602.9 358.9L603.4 298.2L603.9 298.2L604.4 358.9Z" fill="#3591c9"/><path d="M605.2 358.9L605.7 308.9L606.2 308.9L606.7 358.9Z" fill="#3591c9"/><path d="M607.5 358.9L608.0 313.4L608.5 313.4L609.0 358.9Z" fill="#3591c9"/><path d="M609.0 358.9L609.5 321.1L610.0 321.1L610.5 358.9Z" fill="#3591c9"/><path d="M610.6 358.9L611.1 314.2L611.6 314.2L612.1 358.9Z" fill="#3591c9"/><path d="M612.4 358.9L612.9 322.6L613.4 322.6L613.9 358.9Z" fill="#3591c9"/><path d="M614.1 358.9L614.6 313.4L615.1 313.4L615.6 358.9Z" fill="#3591c9"/><path d="M615.4 358.9L615.9 316.5L616.4 316.5L616.9 358.9Z" fill="#3591c9"/><path d="M616.6 358.9L617.1 304.3L617.6 304.3L618.1 358.9Z" fill="#3591c9"/><path d="M618.2 358.9L618.7 310.4L619.2 310.4L619.7 358.9Z" fill="#3591c9"/><path d="M619.7 358.9L620.2 299.0L620.7 299.0L621.2 358.9Z" fill="#3591c9"/><path d="M621.5 358.9L622.0 307.3L622.5 307.3L623.0 358.9Z" fill="#3591c9"/><path d="M623.2 358.9L623.7 297.4L624.2 297.4L624.7 358.9Z" fill="#3591c9"/><path d="M625.0 358.9L625.5 310.4L626.0 310.4L626.5 358.9Z" fill="#3591c9"/><path d="M626.6 358.9L627.1 304.3L627.6 304.3L628.1 358.9Z" fill="#3591c9"/><path d="M627.8 358.9L628.3 299.7L628.8 299.7L629.3 358.9Z" fill="#3591c9"/><path d="M629.3 358.9L629.8 311.9L630.3 311.9L630.8 358.9Z" fill="#3591c9"/><path d="M630.8 358.9L631.3 299.0L631.8 299.0L632.3 358.9Z" fill="#3591c9"/><path d="M632.7 358.9L633.2 304.3L633.7 304.3L634.2 358.9Z" fill="#3591c9"/><path d="M634.2 358.9L634.7 313.4L635.2 313.4L635.7 358.9Z" fill="#3591c9"/><path d="M635.7 358.9L636.2 297.4L636.7 297.4L637.2 358.9Z" fill="#3591c9"/><path d="M637.5 358.9L638.0 308.9L638.5 308.9L639.0 358.9Z" fill="#3591c9"/><path d="M639.5 358.9L640.0 304.3L640.5 304.3L641.0 358.9Z" fill="#3591c9"/><path d="M641.8 358.9L642.3 298.2L642.8 298.2L643.3 358.9Z" fill="#3591c9"/><path d="M644.1 358.9L644.6 302.8L645.1 302.8L645.6 358.9Z" fill="#3591c9"/><path d="M646.1 358.9L646.6 299.7L647.1 299.7L647.6 358.9Z" fill="#3591c9"/><line x1="471.0" x2="643" y1="358.29999999999995" y2="358.29999999999995" stroke="#86b56e" stroke-width=".5"/><line x1="471.0" x2="544.0" y1="358.9" y2="358.9" stroke="#d96d3a" stroke-width=".6"/><line x1="544.0" x2="643" y1="359.0" y2="359.0" stroke="#dcc08a" stroke-width=".6"/></svg>
<div class="t ax" style="right:194.1px;top:27.2px">100k</div>
<div class="t ax" style="right:194.1px;top:57.2px">50k</div>
<div class="t ax" style="right:194.1px;top:87.1px">0</div>
<div class="t axx" style="left:42.2px;top:93.4px">10:00</div>
<div class="t axx" style="left:73.0px;top:93.4px">11:00</div>
<div class="t axx" style="left:103.7px;top:93.4px">12:00</div>
<div class="t axx" style="left:134.2px;top:93.4px">13:00</div>
<div class="t axx" style="left:165.0px;top:93.4px">14:00</div>
</div>
<div class="panel" style="left:22.40px;top:235.60px;width:210.7px;height:103.3px">
<div class="t ct" style="left:5.0px;top:6.7px">APM request rate/sec (by service)</div>
<div class="t cs" style="left:5.0px;top:13.7px">Requests</div>
<svg style="left:0;top:0" width="210.7" height="103.3" viewBox="22.40 376.80 210.7 103.3"><line x1="39.70000000000002" x2="225.3" y1="399.6" y2="399.6" stroke="#383838" stroke-width=".5"/><line x1="39.70000000000002" x2="225.3" y1="421.7" y2="421.7" stroke="#383838" stroke-width=".5"/><line x1="39.70000000000002" x2="225.3" y1="443.8" y2="443.8" stroke="#383838" stroke-width=".5"/><line x1="39.70000000000002" x2="225.3" y1="465.9" y2="465.9" stroke="#383838" stroke-width=".5"/><line x1="66.10000000000002" x2="66.10000000000002" y1="399.6" y2="465.9" stroke="#3a3a3a" stroke-width=".5" stroke-dasharray="1 .6"/><line x1="97.40000000000003" x2="97.40000000000003" y1="399.6" y2="465.9" stroke="#3a3a3a" stroke-width=".5" stroke-dasharray="1 .6"/><line x1="129.0" x2="129.0" y1="399.6" y2="465.9" stroke="#3a3a3a" stroke-width=".5" stroke-dasharray="1 .6"/><line x1="159.5" x2="159.5" y1="399.6" y2="465.9" stroke="#3a3a3a" stroke-width=".5" stroke-dasharray="1 .6"/><line x1="191.10000000000002" x2="191.10000000000002" y1="399.6" y2="465.9" stroke="#3a3a3a" stroke-width=".5" stroke-dasharray="1 .6"/><line x1="221.3" x2="221.3" y1="399.6" y2="465.9" stroke="#3a3a3a" stroke-width=".5" stroke-dasharray="1 .6"/><polyline points="39.7,434.0 40.3,431.0 40.9,403.0 41.6,428.0 42.2,431.0 42.8,430.6 43.4,431.2 44.0,427.7 44.7,428.1 45.3,430.0 45.9,428.0 46.5,429.8 47.1,426.0 47.8,426.3 48.4,431.4 49.0,428.9 49.6,430.1 50.3,432.4 50.9,429.7 51.5,427.6 52.1,434.1 52.7,432.9 53.4,434.0 54.0,434.1 54.6,437.5 55.2,432.4 55.8,435.8 56.5,432.6 57.1,434.3 57.7,435.1 58.3,432.3 58.9,430.5 59.6,433.7 60.2,435.8 60.8,434.8 61.4,433.7 62.0,435.3 62.7,431.7 63.3,431.8 63.9,433.0 64.5,436.8 65.2,432.2 65.8,431.6 66.4,431.5 67.0,431.0 67.6,432.6 68.3,434.7 68.9,436.3 69.5,432.8 70.1,433.0 70.7,432.4 71.4,432.4 72.0,435.5 72.6,433.9 73.2,431.9 73.8,430.9 74.5,435.1 75.1,434.5 75.7,435.2 76.3,431.5 76.9,433.3 77.6,435.5 78.2,433.6 78.8,435.8 79.4,431.2 80.0,436.0 80.7,430.6 81.3,432.7 81.9,430.4 82.5,435.1 83.2,434.5 83.8,436.2 84.4,435.2 85.0,436.1 85.6,433.7 86.3,436.4 86.9,435.0 87.5,432.7 88.1,436.4 88.7,432.9 89.4,431.9 90.0,431.2 90.6,433.5 91.2,432.0 91.8,436.3 92.5,436.5 93.1,432.2 93.7,431.6 94.3,434.1 94.9,432.1 95.6,434.3 96.2,435.9 96.8,432.8 97.4,433.8 98.0,436.7 98.7,434.1 99.3,433.6 99.9,436.9 100.5,436.5 101.2,437.1 101.8,435.9 102.4,434.4 103.0,436.1 103.6,437.0 104.3,436.0 104.9,433.8 105.5,434.2 106.1,434.9 106.7,437.1 107.4,435.9 108.0,436.0 108.6,437.6 109.2,433.6 109.8,436.7 110.5,435.1 111.1,436.6 111.7,438.4 112.3,435.3 112.9,439.5 113.6,434.7 114.2,437.7 114.8,437.8 115.4,436.3 116.1,438.3 116.7,438.0 117.3,438.1 117.9,442.5 118.5,442.6 119.2,451.6 119.8,456.7 120.4,448.4 121.0,457.8 121.6,449.2 122.3,455.4 122.9,448.8 123.5,452.4 124.1,452.1 124.7,447.7 125.4,455.7 126.0,452.9 126.6,455.5 127.2,453.6 127.8,453.8 128.5,453.5 129.1,450.6 129.7,458.2 130.3,447.9 130.9,457.9 131.6,457.8 132.2,453.2 132.8,456.7 133.4,455.4 134.1,454.6 134.7,450.6 135.3,451.0 135.9,451.4 136.5,450.8 137.2,459.0 137.8,451.3 138.4,451.9 139.0,452.3 139.6,457.2 140.3,453.1 140.9,454.0 141.5,450.3 142.1,450.6 142.7,448.3 143.4,449.9 144.0,450.5 144.6,457.7 145.2,453.4 145.8,448.7 146.5,453.0 147.1,448.8 147.7,454.2 148.3,452.8 148.9,457.8 149.6,450.6 150.2,457.7 150.8,450.5 151.4,459.3 152.1,455.1 152.7,448.1 153.3,457.3 153.9,450.9 154.5,452.0 155.2,449.5 155.8,457.7 156.4,448.8 157.0,456.6 157.6,452.5 158.3,455.9 158.9,451.4 159.5,448.9 160.1,458.8 160.7,455.7 161.4,450.0 162.0,459.5 162.6,458.8 163.2,450.3 163.8,448.4 164.5,455.3 165.1,449.8 165.7,456.8 166.3,453.8 167.0,456.6 167.6,455.0 168.2,457.3 168.8,458.0 169.4,455.4 170.1,455.3 170.7,452.3 171.3,450.1 171.9,449.6 172.5,458.5 173.2,451.0 173.8,453.6 174.4,452.3 175.0,455.8 175.6,454.9 176.3,458.6 176.9,453.8 177.5,453.0 178.1,456.3 178.7,457.4 179.4,459.5 180.0,452.5 180.6,459.1 181.2,460.2 181.8,460.2 182.5,450.6 183.1,453.4 183.7,457.9 184.3,458.6 185.0,449.7 185.6,453.7 186.2,457.4 186.8,457.8 187.4,455.4 188.1,451.8 188.7,454.0 189.3,450.1 189.9,453.0 190.5,454.2 191.2,458.6 191.8,456.0 192.4,454.1 193.0,452.2 193.6,453.0 194.3,456.9 194.9,454.4 195.5,451.4 196.1,458.6 196.7,455.9 197.4,460.2 198.0,455.5 198.6,456.4 199.2,454.3 199.8,456.2 200.5,459.6 201.1,460.3 201.7,456.8 202.3,454.3 203.0,450.3 203.6,458.8 204.2,453.9 204.8,453.8 205.4,450.3 206.1,450.1 206.7,453.9 207.3,460.2 207.9,457.7 208.5,457.4 209.2,456.9 209.8,452.7 210.4,451.6 211.0,456.2 211.6,450.5 212.3,456.1 212.9,455.3 213.5,455.6 214.1,451.1 214.7,450.5 215.4,454.9 216.0,451.4 216.6,456.7 217.2,453.1 217.9,456.4 218.5,457.8 219.1,456.3 219.7,455.5 220.3,452.0 221.0,453.6 221.6,460.2 222.2,452.8 222.8,452.9 223.4,455.1 224.1,455.7 224.7,458.2 225.3,453.1" fill="none" stroke="#e59049" stroke-width="0.8" stroke-linejoin="round" opacity="1"/><polyline points="39.7,460.1 40.3,458.5 40.9,456.5 41.6,456.8 42.2,457.2 42.8,458.3 43.4,458.8 44.0,459.2 44.7,458.8 45.3,459.2 45.9,459.2 46.5,459.2 47.1,459.0 47.8,459.3 48.4,459.4 49.0,458.9 49.6,459.1 50.3,459.4 50.9,459.3 51.5,459.1 52.1,459.0 52.7,459.4 53.4,458.9 54.0,459.3 54.6,459.4 55.2,459.0 55.8,459.1 56.5,459.1 57.1,459.2 57.7,459.1 58.3,459.5 58.9,459.5 59.6,459.1 60.2,459.5 60.8,459.0 61.4,459.0 62.0,459.4 62.7,459.5 63.3,459.5 63.9,459.6 64.5,459.5 65.2,459.2 65.8,459.5 66.4,459.6 67.0,459.1 67.6,459.4 68.3,459.2 68.9,459.2 69.5,459.4 70.1,459.5 70.7,459.7 71.4,459.2 72.0,459.4 72.6,459.7 73.2,459.6 73.8,459.5 74.5,459.3 75.1,459.6 75.7,459.4 76.3,459.6 76.9,459.6 77.6,459.5 78.2,459.7 78.8,459.5 79.4,459.5 80.0,459.8 80.7,459.4 81.3,459.4 81.9,459.6 82.5,459.6 83.2,459.8 83.8,459.5 84.4,459.6 85.0,459.4 85.6,459.6 86.3,459.5 86.9,459.6 87.5,459.8 88.1,459.4 88.7,460.0 89.4,459.8 90.0,459.9 90.6,459.7 91.2,459.8 91.8,459.7 92.5,459.7 93.1,459.6 93.7,459.7 94.3,459.7 94.9,459.7 95.6,460.0 96.2,460.0 96.8,459.9 97.4,459.6 98.0,459.7 98.7,459.9 99.3,460.0 99.9,459.9 100.5,460.0 101.2,460.2 101.8,459.8 102.4,459.9 103.0,460.2 103.6,459.9 104.3,460.2 104.9,460.0 105.5,459.8 106.1,460.1 106.7,459.9 107.4,460.3 108.0,460.4 108.6,460.2 109.2,460.4 109.8,460.1 110.5,460.2 111.1,460.1 111.7,460.0 112.3,460.5 112.9,460.0 113.6,460.6 114.2,460.4 114.8,460.5 115.4,460.1 116.1,460.7 116.7,460.7 117.3,460.4 117.9,460.6 118.5,460.7 119.2,461.0 119.8,460.9 120.4,461.5 121.0,461.4 121.6,461.6 122.3,461.5 122.9,461.8 123.5,461.8 124.1,462.1 124.7,462.1 125.4,462.5 126.0,462.6 126.6,462.7 127.2,462.5 127.8,462.5 128.5,462.6 129.1,462.7 129.7,463.3 130.3,463.1 130.9,463.5 131.6,463.3 132.2,463.6 132.8,463.5 133.4,463.5 134.1,463.8 134.7,463.7 135.3,463.9 135.9,463.5 136.5,463.5 137.2,463.4 137.8,463.5 138.4,463.9 139.0,463.7 139.6,463.6 140.3,463.6 140.9,463.8 141.5,463.8 142.1,463.5 142.7,463.4 143.4,463.5 144.0,463.9 144.6,463.8 145.2,463.5 145.8,463.5 146.5,463.6 147.1,463.8 147.7,463.9 148.3,463.6 148.9,463.6 149.6,463.6 150.2,464.0 150.8,463.8 151.4,464.0 152.1,463.6 152.7,463.8 153.3,463.8 153.9,464.0 154.5,463.7 155.2,463.6 155.8,464.0 156.4,464.1 157.0,463.8 157.6,463.7 158.3,463.5 158.9,463.8 159.5,464.1 160.1,463.7 160.7,463.8 161.4,463.9 162.0,463.7 162.6,463.6 163.2,463.8 163.8,464.1 164.5,464.1 165.1,463.7 165.7,464.0 166.3,464.1 167.0,463.9 167.6,463.8 168.2,463.7 168.8,464.0 169.4,464.0 170.1,463.7 170.7,463.7 171.3,463.7 171.9,464.1 172.5,464.1 173.2,463.9 173.8,464.0 174.4,464.0 175.0,463.7 175.6,463.9 176.3,463.9 176.9,464.2 177.5,463.7 178.1,464.2 178.7,463.7 179.4,464.0 180.0,464.2 180.6,463.7 181.2,464.0 181.8,463.7 182.5,464.0 183.1,464.0 183.7,464.3 184.3,464.0 185.0,464.2 185.6,464.1 186.2,464.2 186.8,463.9 187.4,463.8 188.1,464.1 188.7,463.8 189.3,464.1 189.9,463.8 190.5,464.1 191.2,464.2 191.8,464.3 192.4,463.9 193.0,463.9 193.6,464.0 194.3,464.4 194.9,463.9 195.5,464.1 196.1,464.0 196.7,463.8 197.4,464.1 198.0,464.0 198.6,464.1 199.2,464.2 199.8,464.2 200.5,464.0 201.1,464.2 201.7,464.1 202.3,464.3 203.0,463.8 203.6,464.0 204.2,464.2 204.8,464.2 205.4,464.2 206.1,464.2 206.7,464.2 207.3,464.3 207.9,464.4 208.5,464.3 209.2,464.4 209.8,464.2 210.4,464.0 211.0,464.1 211.6,464.4 212.3,464.4 212.9,464.3 213.5,464.0 214.1,464.0 214.7,464.3 215.4,464.2 216.0,464.0 216.6,464.5 217.2,464.1 217.9,464.5 218.5,464.3 219.1,464.5 219.7,464.4 220.3,464.1 221.0,464.1 221.6,464.5 222.2,464.2 222.8,464.3 223.4,464.4 224.1,464.4 224.7,464.4 225.3,464.3" fill="none" stroke="#8f4a86" stroke-width="0.7" stroke-linejoin="round" opacity="1"/><line x1="39.70000000000002" x2="225.3" y1="465.0" y2="465.0" stroke="#6e3a30" stroke-width=".5"/><line x1="39.70000000000002" x2="225.3" y1="465.9" y2="465.9" stroke="#ecd6cc" stroke-width="1.0"/></svg>
<div class="t ax" style="right:196.9px;top:20.8px">75</div>
<div class="t ax" style="right:196.9px;top:42.9px">50</div>
<div class="t ax" style="right:196.9px;top:65.0px">25</div>
<div class="t ax" style="right:196.9px;top:87.1px">0</div>
<div class="t axx" style="left:38.7px;top:93.4px">10:00</div>
<div class="t axx" style="left:70.0px;top:93.4px">11:00</div>
<div class="t axx" style="left:101.6px;top:93.4px">12:00</div>
<div class="t axx" style="left:132.1px;top:93.4px">13:00</div>
<div class="t axx" style="left:163.7px;top:93.4px">14:00</div>
<div class="t axx" style="left:193.9px;top:93.4px">15:00</div>
</div>
<div class="panel" style="left:236.70px;top:235.60px;width:210.7px;height:103.3px">
<div class="t ct" style="left:5.0px;top:6.7px">Database query latency (by query)</div>
<div class="t cs" style="left:5.0px;top:13.7px">Milliseconds</div>
<svg style="left:0;top:0" width="210.7" height="103.3" viewBox="236.70 376.80 210.7 103.3"><line x1="256.4" x2="439.6" y1="406.3" y2="406.3" stroke="#383838" stroke-width=".5"/><line x1="256.4" x2="439.6" y1="426.2" y2="426.2" stroke="#383838" stroke-width=".5"/><line x1="256.4" x2="439.6" y1="446.0" y2="446.0" stroke="#383838" stroke-width=".5"/><line x1="256.4" x2="439.6" y1="465.9" y2="465.9" stroke="#383838" stroke-width=".5"/><line x1="280.3" x2="280.3" y1="400" y2="465.9" stroke="#3a3a3a" stroke-width=".5" stroke-dasharray="1 .6"/><line x1="311.6" x2="311.6" y1="400" y2="465.9" stroke="#3a3a3a" stroke-width=".5" stroke-dasharray="1 .6"/><line x1="343.2" x2="343.2" y1="400" y2="465.9" stroke="#3a3a3a" stroke-width=".5" stroke-dasharray="1 .6"/><line x1="373.7" x2="373.7" y1="400" y2="465.9" stroke="#3a3a3a" stroke-width=".5" stroke-dasharray="1 .6"/><line x1="405.3" x2="405.3" y1="400" y2="465.9" stroke="#3a3a3a" stroke-width=".5" stroke-dasharray="1 .6"/><line x1="435.5" x2="435.5" y1="400" y2="465.9" stroke="#3a3a3a" stroke-width=".5" stroke-dasharray="1 .6"/><polyline points="256.4,447.2 256.9,446.2 257.4,444.4 257.8,448.4 258.3,442.6 258.8,445.3 259.2,447.4 259.7,441.8 260.2,444.3 260.6,444.2 261.1,439.8 261.6,441.4 262.0,443.0 262.5,440.7 263.0,441.9 263.5,437.5 263.9,437.5 264.4,436.0 264.9,438.1 265.3,440.9 265.8,439.2 266.3,441.2 266.7,439.1 267.2,442.3 267.7,438.4 268.1,440.4 268.6,443.3 269.1,442.1 269.6,438.3 270.0,434.3 270.5,433.8 271.0,428.1 271.4,423.3 271.9,424.5 272.4,413.1 272.8,423.4 273.3,423.5 273.8,411.3 274.2,416.4 274.7,418.4 275.2,411.5 275.7,417.9 276.1,425.4 276.6,413.6 277.1,421.2 277.5,414.2 278.0,421.4 278.5,426.5 278.9,415.5 279.4,411.8 279.9,412.2 280.3,418.5 280.8,409.8 281.3,410.1 281.8,415.8 282.2,421.6 282.7,413.2 283.2,412.1 283.6,415.1 284.1,406.0 284.6,412.8 285.0,405.8 285.5,412.7 286.0,419.4 286.4,406.5 286.9,415.6 287.4,417.7 287.8,411.8 288.3,414.9 288.8,427.5 289.3,428.8 289.7,416.3 290.2,426.7 290.7,430.4 291.1,418.2 291.6,423.2 292.1,413.2 292.5,417.4 293.0,421.3 293.5,419.1 293.9,421.1 294.4,409.2 294.9,412.4 295.4,419.7 295.8,415.5 296.3,413.7 296.8,413.2 297.2,422.8 297.7,416.6 298.2,408.0 298.6,420.8 299.1,413.6 299.6,415.6 300.0,412.3 300.5,416.4 301.0,415.3 301.5,412.3 301.9,421.8 302.4,414.0 302.9,425.9 303.3,414.3 303.8,427.4 304.3,428.6 304.7,424.3 305.2,428.6 305.7,420.7 306.1,427.0 306.6,420.2 307.1,415.4 307.6,425.7 308.0,414.8 308.5,412.6 309.0,418.9 309.4,409.2 309.9,413.1 310.4,404.7 310.8,415.5 311.3,405.6 311.8,401.8 312.2,416.9 312.7,403.3 313.2,415.9 313.6,416.3 314.1,409.7 314.6,399.5 315.1,400.1 315.5,402.3 316.0,406.6 316.5,411.7 316.9,419.1 317.4,410.3 317.9,408.1 318.3,416.6 318.8,410.8 319.3,412.5 319.7,422.6 320.2,427.2 320.7,420.5 321.2,428.5 321.6,433.6 322.1,434.8 322.6,430.8 323.0,437.1 323.5,429.9 324.0,436.3 324.4,438.6 324.9,441.4 325.4,439.7 325.8,438.2 326.3,439.9 326.8,445.6 327.3,444.9 327.7,449.4 328.2,447.0 328.7,452.5 329.1,450.5 329.6,450.7 330.1,452.8 330.5,455.3 331.0,456.8 331.5,457.3 331.9,457.7 332.4,459.7 332.9,461.9 333.3,462.0 333.8,463.7 334.3,463.0 334.8,464.5 335.2,464.7 335.7,464.9 439.6,465.1" fill="none" stroke="#3a86b8" stroke-width="0.65" stroke-linejoin="round" opacity="1"/><polyline points="256.4,458.0 256.9,457.7 257.4,459.4 257.8,454.5 258.3,457.4 258.8,456.5 259.2,454.8 259.7,456.9 260.2,456.6 260.6,452.6 261.1,455.8 261.6,454.0 262.0,453.8 262.5,454.3 263.0,450.2 263.5,453.1 263.9,451.2 264.4,454.0 264.9,449.3 265.3,452.7 265.8,451.7 266.3,450.5 266.7,451.7 267.2,446.1 267.7,450.2 268.1,450.5 268.6,451.2 269.1,449.6 269.6,447.4 270.0,448.5 270.5,450.3 271.0,445.3 271.4,442.4 271.9,442.6 272.4,442.1 272.8,442.5 273.3,438.6 273.8,444.1 274.2,440.7 274.7,444.0 275.2,438.1 275.7,445.2 276.1,442.3 276.6,445.2 277.1,445.2 277.5,443.9 278.0,438.3 278.5,440.0 278.9,439.0 279.4,443.2 279.9,438.5 280.3,438.7 280.8,437.7 281.3,437.7 281.8,444.0 282.2,444.2 282.7,439.4 283.2,442.2 283.6,439.9 284.1,440.3 284.6,439.0 285.0,441.0 285.5,438.0 286.0,438.8 286.4,441.5 286.9,439.6 287.4,442.1 287.8,446.8 288.3,440.0 288.8,441.3 289.3,447.6 289.7,442.1 290.2,444.3 290.7,449.2 291.1,446.8 291.6,443.2 292.1,441.5 292.5,442.9 293.0,442.7 293.5,446.5 293.9,447.5 294.4,445.6 294.9,446.2 295.4,446.0 295.8,445.6 296.3,446.1 296.8,446.5 297.2,439.2 297.7,441.1 298.2,440.6 298.6,443.7 299.1,442.8 299.6,441.6 300.0,445.9 300.5,442.2 301.0,440.6 301.5,441.3 301.9,442.9 302.4,444.3 302.9,444.0 303.3,442.9 303.8,440.8 304.3,442.7 304.7,442.1 305.2,440.8 305.7,444.0 306.1,440.6 306.6,445.0 307.1,444.3 307.6,439.4 308.0,443.4 308.5,440.6 309.0,441.3 309.4,442.5 309.9,443.7 310.4,444.5 310.8,442.9 311.3,437.9 311.8,440.6 312.2,438.5 312.7,435.3 313.2,440.0 313.6,439.0 314.1,442.3 314.6,437.1 315.1,441.5 315.5,438.3 316.0,435.0 316.5,441.4 316.9,437.9 317.4,440.8 317.9,437.1 318.3,437.1 318.8,446.2 319.3,439.1 319.7,441.4 320.2,442.8 320.7,443.6 321.2,450.6 321.6,452.9 322.1,451.4 322.6,450.5 323.0,454.3 323.5,452.5 324.0,450.9 324.4,454.7 324.9,453.6 325.4,453.8 325.8,454.7 326.3,455.7 326.8,455.5 327.3,457.9 327.7,459.4 328.2,458.9 328.7,457.7 329.1,460.5 329.6,459.2 330.1,461.1 330.5,462.7 331.0,462.8 331.5,463.8 331.9,464.1 332.4,463.9 332.9,464.0 333.3,464.6 333.8,465.0 334.3,464.8 334.8,465.1 335.2,465.4 335.7,465.1" fill="none" stroke="#88c070" stroke-width="0.6" stroke-linejoin="round" opacity="1"/><line x1="334.9" x2="439.6" y1="464.9" y2="464.9" stroke="#3a7aa3" stroke-width=".6"/><line x1="256.4" x2="332.3" y1="465.59999999999997" y2="465.59999999999997" stroke="#7c3535" stroke-width=".5"/><line x1="256.4" x2="439.6" y1="466.09999999999997" y2="466.09999999999997" stroke="#cdbcbc" stroke-width=".55"/></svg>
<div class="t ax" style="right:195.4px;top:27.5px">750</div>
<div class="t ax" style="right:195.4px;top:47.4px">500</div>
<div class="t ax" style="right:195.4px;top:67.2px">250</div>
<div class="t ax" style="right:195.4px;top:87.1px">0</div>
<div class="t axx" style="left:38.6px;top:93.4px">10:00</div>
<div class="t axx" style="left:69.9px;top:93.4px">11:00</div>
<div class="t axx" style="left:101.5px;top:93.4px">12:00</div>
<div class="t axx" style="left:132.0px;top:93.4px">13:00</div>
<div class="t axx" style="left:163.6px;top:93.4px">14:00</div>
<div class="t axx" style="left:193.8px;top:93.4px">15:00</div>
</div>
<div class="panel" style="left:451.00px;top:235.60px;width:210.7px;height:103.3px">
<div class="t ct" style="left:5.0px;top:6.7px">APM response time (by service)</div>
<div class="t cs" style="left:5.0px;top:13.7px">Milliseconds</div>
<svg style="left:0;top:0" width="210.7" height="103.3" viewBox="451.00 376.80 210.7 103.3"><line x1="470.0" x2="660" y1="401.2" y2="401.2" stroke="#383838" stroke-width=".5"/><line x1="470.0" x2="660" y1="433.6" y2="433.6" stroke="#383838" stroke-width=".5"/><line x1="470.0" x2="660" y1="465.9" y2="465.9" stroke="#383838" stroke-width=".5"/><line x1="497.3" x2="497.3" y1="399" y2="465.9" stroke="#3a3a3a" stroke-width=".5" stroke-dasharray="1 .6"/><line x1="528.3" x2="528.3" y1="399" y2="465.9" stroke="#3a3a3a" stroke-width=".5" stroke-dasharray="1 .6"/><line x1="559.2" x2="559.2" y1="399" y2="465.9" stroke="#3a3a3a" stroke-width=".5" stroke-dasharray="1 .6"/><line x1="590.0" x2="590.0" y1="399" y2="465.9" stroke="#3a3a3a" stroke-width=".5" stroke-dasharray="1 .6"/><line x1="620.8" x2="620.8" y1="399" y2="465.9" stroke="#3a3a3a" stroke-width=".5" stroke-dasharray="1 .6"/><polygon points="470.1,463.2 470.1,460.4 470.7,461.0 471.3,459.5 471.9,460.3 472.6,459.1 473.2,457.4 473.8,454.4 474.4,457.2 475.0,456.5 475.7,457.8 476.3,455.5 476.9,451.8 477.5,451.9 478.2,455.1 478.8,455.6 479.4,455.0 480.0,450.0 480.6,454.2 481.3,454.0 481.9,455.4 482.5,454.9 483.1,452.3 483.7,454.7 484.4,454.8 485.0,453.4 485.6,453.3 486.2,454.4 486.8,448.3 487.5,454.0 488.1,452.7 488.7,453.1 489.3,452.6 489.9,451.6 490.6,451.6 491.2,451.4 491.8,450.8 492.4,452.2 493.1,451.0 493.7,451.5 494.3,452.2 494.9,452.3 495.5,451.4 496.2,451.2 496.8,450.6 497.4,446.4 498.0,451.9 498.6,450.8 499.3,450.8 499.9,448.8 500.5,452.3 501.1,451.9 501.7,450.8 502.4,451.4 503.0,450.3 503.6,452.2 504.2,452.3 504.9,451.3 505.5,452.3 506.1,451.6 506.7,448.7 507.3,449.6 508.0,451.9 508.6,451.8 509.2,451.4 509.8,452.1 510.4,448.4 511.1,450.7 511.7,449.1 512.3,450.9 512.9,449.7 513.5,450.9 514.2,447.6 514.8,451.8 515.4,449.2 516.0,449.8 516.7,449.9 517.3,450.0 517.9,448.1 518.5,450.0 519.1,449.8 519.8,450.3 520.4,449.2 521.0,450.1 521.6,451.0 522.2,450.3 522.9,445.8 523.5,450.8 524.1,449.1 524.7,448.2 525.3,450.1 526.0,449.2 526.6,448.1 527.2,449.0 527.8,449.2 528.5,446.9 529.1,449.5 529.7,451.1 530.3,450.6 530.9,450.7 531.6,451.6 532.2,450.6 532.8,451.9 533.4,453.1 534.0,452.9 534.7,453.6 535.3,454.3 535.9,453.8 536.5,454.7 537.1,456.3 537.8,455.8 538.4,456.3 539.0,456.5 539.6,457.0 540.3,459.6 540.9,454.3 541.5,460.2 542.1,460.0 542.7,461.3 543.4,462.3 544.0,461.1 544.0,463.2" fill="rgba(150,50,115,0.10)" stroke="#b8478a" stroke-width="0.65" stroke-linejoin="round" opacity="1"/><polygon points="543.6,463.5 543.6,458.6 544.2,459.9 544.7,460.6 545.3,460.5 545.8,457.7 546.4,462.0 546.9,460.5 547.5,458.1 548.0,456.7 548.6,459.4 549.1,447.4 549.7,459.4 550.2,461.7 550.8,462.4 551.3,459.7 551.9,461.0 552.4,456.0 553.0,460.2 553.5,462.4 554.1,460.1 554.6,455.0 555.2,458.3 555.7,458.5 556.3,462.5 556.8,452.5 557.4,461.9 557.9,455.2 558.5,459.8 559.0,453.3 559.5,456.8 559.6,461.5 560.1,460.4 560.2,442.3 560.7,458.4 560.9,456.8 561.2,462.5 561.8,459.5 562.3,452.9 562.9,460.4 563.4,454.7 564.0,462.4 564.5,455.1 565.1,459.4 565.6,456.8 565.6,438.1 566.2,461.8 566.3,443.8 566.7,461.5 567.0,456.8 567.3,459.7 567.8,455.7 568.4,462.1 568.9,449.9 569.5,459.5 570.0,453.7 570.6,460.2 571.1,444.4 571.7,458.2 572.2,436.6 572.5,456.8 572.8,459.8 573.2,428.6 573.3,451.9 573.9,462.1 573.9,456.8 574.4,454.7 575.0,461.8 575.5,454.0 575.5,456.8 576.1,459.2 576.2,440.8 576.6,443.1 576.9,456.8 577.2,462.0 577.7,450.1 578.3,462.2 578.8,460.6 579.4,462.7 579.9,459.1 580.5,458.2 581.0,447.1 581.6,462.3 582.1,459.4 582.7,459.0 583.2,452.8 583.8,460.7 584.2,456.8 584.3,457.8 584.9,460.2 584.9,443.1 585.4,460.6 585.6,456.8 586.0,459.9 586.5,450.0 587.1,457.9 587.6,439.8 588.2,460.0 588.7,441.2 589.3,461.7 589.8,447.6 590.4,462.6 590.9,448.7 591.5,460.6 592.0,454.5 592.6,459.4 593.1,456.8 593.1,448.5 593.7,461.6 593.8,437.7 594.2,447.4 594.5,456.8 594.8,461.9 595.3,429.5 595.9,459.7 596.4,448.9 596.9,456.8 597.0,459.5 597.5,460.9 597.6,436.2 598.1,460.4 598.3,456.8 598.6,458.8 599.2,461.2 599.7,457.7 600.3,462.2 600.8,453.5 601.4,462.3 601.9,428.3 602.2,456.8 602.5,459.9 602.9,401.9 603.0,456.5 603.6,461.0 603.6,456.8 604.1,452.2 604.7,461.1 605.2,451.5 605.8,460.3 606.3,427.6 606.5,456.8 606.9,460.6 607.2,415.6 607.4,455.3 607.9,456.8 608.0,462.4 608.5,460.1 609.1,461.2 609.6,448.7 610.2,462.1 610.7,443.7 610.9,456.8 611.3,462.3 611.6,434.7 611.8,460.1 612.3,456.8 612.4,459.1 612.9,451.5 613.5,462.5 614.0,442.0 614.6,460.0 615.1,453.6 615.7,462.8 615.9,456.8 616.2,459.8 616.6,420.2 616.8,461.1 617.3,456.8 617.3,458.9 617.9,458.4 618.4,452.1 619.0,458.2 619.5,438.8 620.1,459.3 620.5,456.8 620.6,459.9 621.2,459.6 621.2,418.7 621.7,456.9 621.9,456.8 622.3,462.6 622.8,461.4 623.1,456.8 623.4,458.9 623.8,427.1 623.9,458.8 624.5,462.3 624.5,456.8 625.0,455.7 625.6,461.0 626.1,455.1 626.7,459.7 627.2,453.8 627.4,456.8 627.8,461.9 628.1,409.5 628.3,458.8 628.8,456.8 628.9,461.9 629.4,454.7 630.0,462.7 630.5,441.7 631.1,459.5 631.6,451.6 631.9,456.8 632.2,459.2 632.6,437.7 632.7,457.5 633.3,459.9 633.3,456.8 633.8,446.8 634.4,461.2 634.9,438.9 635.5,459.5 636.0,447.5 636.6,458.5 637.1,432.2 637.3,456.8 637.7,461.0 638.0,418.7 638.2,457.6 638.7,456.8 638.8,459.7 639.3,460.2 639.9,459.8 640.4,441.9 641.0,458.4 641.5,429.6 641.8,456.8 642.1,459.4 642.5,427.8 642.6,431.6 643.2,460.7 643.2,456.8 643.7,457.9 644.3,460.9 644.8,441.3 645.4,459.1 645.9,451.9 646.5,460.3 646.5,463.5" fill="rgba(160,45,115,0.38)" stroke="#bd4a8c" stroke-width="0.6" stroke-linejoin="round" opacity="1"/><line x1="470.0" x2="646" y1="463.3" y2="463.3" stroke="#d4a238" stroke-width=".75"/><line x1="470.0" x2="544.0" y1="466.09999999999997" y2="466.09999999999997" stroke="#ecdcc0" stroke-width=".85"/><line x1="544.0" x2="646" y1="466.2" y2="466.2" stroke="#efd0d6" stroke-width=".75"/></svg>
<div class="t ax" style="right:194.7px;top:22.4px">40k</div>
<div class="t ax" style="right:194.7px;top:54.8px">20k</div>
<div class="t ax" style="right:194.7px;top:87.1px">0</div>
<div class="t axx" style="left:41.3px;top:93.4px">10:00</div>
<div class="t axx" style="left:72.3px;top:93.4px">11:00</div>
<div class="t axx" style="left:103.2px;top:93.4px">12:00</div>
<div class="t axx" style="left:134.0px;top:93.4px">13:00</div>
<div class="t axx" style="left:164.8px;top:93.4px">14:00</div>
</div>
<div class="panel" style="left:22.40px;top:342.60px;width:210.7px;height:103.3px">
<div class="t ct" style="left:5.0px;top:6.7px">JVM heap usage (by service)</div>
</div>
<div class="panel" style="left:236.70px;top:342.60px;width:210.7px;height:103.3px">
<div class="t ct" style="left:5.0px;top:6.7px">Remote service call latency</div>
<div class="t cs" style="left:5.0px;top:13.7px">Milliseconds</div>
</div>
<div class="panel" style="left:451.00px;top:342.60px;width:210.7px;height:103.3px">
<div class="t ct" style="left:5.0px;top:6.7px">JVM Garbage Collection time (by service)</div>
</div>
</div></body></html>
